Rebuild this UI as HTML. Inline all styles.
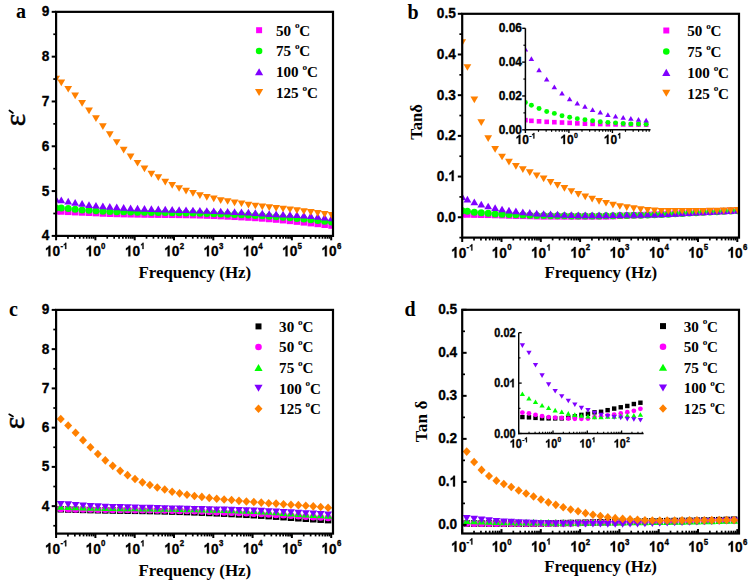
<!DOCTYPE html><html><head><meta charset="utf-8"><style>html,body{margin:0;padding:0;background:#fff;}svg{display:block;}</style></head><body>
<svg width="749" height="581" viewBox="0 0 749 581">
<rect width="749" height="581" fill="#fff"/>
<clipPath id="ca"><rect x="56.1" y="11.85" width="276.9" height="224.05"/></clipPath>
<g clip-path="url(#ca)">
<rect x="52.85" y="208.01" width="6.5" height="6.5" fill="#ff00ff"/>
<rect x="58.05" y="208.23" width="6.5" height="6.5" fill="#ff00ff"/>
<rect x="64.98" y="208.57" width="6.5" height="6.5" fill="#ff00ff"/>
<rect x="71.91" y="208.91" width="6.5" height="6.5" fill="#ff00ff"/>
<rect x="78.84" y="209.2" width="6.5" height="6.5" fill="#ff00ff"/>
<rect x="85.77" y="209.49" width="6.5" height="6.5" fill="#ff00ff"/>
<rect x="92.7" y="209.82" width="6.5" height="6.5" fill="#ff00ff"/>
<rect x="99.63" y="210.25" width="6.5" height="6.5" fill="#ff00ff"/>
<rect x="106.56" y="210.5" width="6.5" height="6.5" fill="#ff00ff"/>
<rect x="113.49" y="210.71" width="6.5" height="6.5" fill="#ff00ff"/>
<rect x="120.42" y="210.88" width="6.5" height="6.5" fill="#ff00ff"/>
<rect x="127.35" y="211.02" width="6.5" height="6.5" fill="#ff00ff"/>
<rect x="134.28" y="211.14" width="6.5" height="6.5" fill="#ff00ff"/>
<rect x="141.21" y="211.25" width="6.5" height="6.5" fill="#ff00ff"/>
<rect x="148.14" y="211.34" width="6.5" height="6.5" fill="#ff00ff"/>
<rect x="155.07" y="211.41" width="6.5" height="6.5" fill="#ff00ff"/>
<rect x="162" y="211.48" width="6.5" height="6.5" fill="#ff00ff"/>
<rect x="168.93" y="211.55" width="6.5" height="6.5" fill="#ff00ff"/>
<rect x="175.86" y="211.64" width="6.5" height="6.5" fill="#ff00ff"/>
<rect x="182.79" y="211.74" width="6.5" height="6.5" fill="#ff00ff"/>
<rect x="189.72" y="211.88" width="6.5" height="6.5" fill="#ff00ff"/>
<rect x="196.65" y="212.06" width="6.5" height="6.5" fill="#ff00ff"/>
<rect x="203.58" y="212.29" width="6.5" height="6.5" fill="#ff00ff"/>
<rect x="210.51" y="212.55" width="6.5" height="6.5" fill="#ff00ff"/>
<rect x="217.44" y="212.86" width="6.5" height="6.5" fill="#ff00ff"/>
<rect x="224.37" y="213.18" width="6.5" height="6.5" fill="#ff00ff"/>
<rect x="231.3" y="213.54" width="6.5" height="6.5" fill="#ff00ff"/>
<rect x="238.23" y="213.91" width="6.5" height="6.5" fill="#ff00ff"/>
<rect x="245.16" y="214.28" width="6.5" height="6.5" fill="#ff00ff"/>
<rect x="252.09" y="214.7" width="6.5" height="6.5" fill="#ff00ff"/>
<rect x="259.02" y="215.19" width="6.5" height="6.5" fill="#ff00ff"/>
<rect x="265.95" y="215.73" width="6.5" height="6.5" fill="#ff00ff"/>
<rect x="272.88" y="216.3" width="6.5" height="6.5" fill="#ff00ff"/>
<rect x="279.81" y="216.93" width="6.5" height="6.5" fill="#ff00ff"/>
<rect x="286.74" y="217.63" width="6.5" height="6.5" fill="#ff00ff"/>
<rect x="293.67" y="218.35" width="6.5" height="6.5" fill="#ff00ff"/>
<rect x="300.6" y="219.1" width="6.5" height="6.5" fill="#ff00ff"/>
<rect x="307.53" y="219.88" width="6.5" height="6.5" fill="#ff00ff"/>
<rect x="314.46" y="220.67" width="6.5" height="6.5" fill="#ff00ff"/>
<rect x="321.39" y="221.48" width="6.5" height="6.5" fill="#ff00ff"/>
<rect x="328.32" y="222.29" width="6.5" height="6.5" fill="#ff00ff"/>
<circle cx="56.1" cy="207.9" r="3.5" fill="#00ff00"/>
<circle cx="61.3" cy="208.12" r="3.5" fill="#00ff00"/>
<circle cx="68.23" cy="208.57" r="3.5" fill="#00ff00"/>
<circle cx="75.16" cy="209.25" r="3.5" fill="#00ff00"/>
<circle cx="82.09" cy="209.92" r="3.5" fill="#00ff00"/>
<circle cx="89.02" cy="210.37" r="3.5" fill="#00ff00"/>
<circle cx="95.95" cy="210.82" r="3.5" fill="#00ff00"/>
<circle cx="102.88" cy="211.15" r="3.5" fill="#00ff00"/>
<circle cx="109.81" cy="211.41" r="3.5" fill="#00ff00"/>
<circle cx="116.74" cy="211.63" r="3.5" fill="#00ff00"/>
<circle cx="123.67" cy="211.82" r="3.5" fill="#00ff00"/>
<circle cx="130.6" cy="212" r="3.5" fill="#00ff00"/>
<circle cx="137.53" cy="212.15" r="3.5" fill="#00ff00"/>
<circle cx="144.46" cy="212.29" r="3.5" fill="#00ff00"/>
<circle cx="151.39" cy="212.41" r="3.5" fill="#00ff00"/>
<circle cx="158.32" cy="212.52" r="3.5" fill="#00ff00"/>
<circle cx="165.25" cy="212.62" r="3.5" fill="#00ff00"/>
<circle cx="172.18" cy="212.72" r="3.5" fill="#00ff00"/>
<circle cx="179.11" cy="212.83" r="3.5" fill="#00ff00"/>
<circle cx="186.04" cy="212.96" r="3.5" fill="#00ff00"/>
<circle cx="192.97" cy="213.12" r="3.5" fill="#00ff00"/>
<circle cx="199.9" cy="213.29" r="3.5" fill="#00ff00"/>
<circle cx="206.83" cy="213.49" r="3.5" fill="#00ff00"/>
<circle cx="213.76" cy="213.71" r="3.5" fill="#00ff00"/>
<circle cx="220.69" cy="213.95" r="3.5" fill="#00ff00"/>
<circle cx="227.62" cy="214.21" r="3.5" fill="#00ff00"/>
<circle cx="234.55" cy="214.48" r="3.5" fill="#00ff00"/>
<circle cx="241.48" cy="214.77" r="3.5" fill="#00ff00"/>
<circle cx="248.41" cy="215.07" r="3.5" fill="#00ff00"/>
<circle cx="255.34" cy="215.39" r="3.5" fill="#00ff00"/>
<circle cx="262.27" cy="215.76" r="3.5" fill="#00ff00"/>
<circle cx="269.2" cy="216.18" r="3.5" fill="#00ff00"/>
<circle cx="276.13" cy="216.63" r="3.5" fill="#00ff00"/>
<circle cx="283.06" cy="217.18" r="3.5" fill="#00ff00"/>
<circle cx="289.99" cy="217.81" r="3.5" fill="#00ff00"/>
<circle cx="296.92" cy="218.46" r="3.5" fill="#00ff00"/>
<circle cx="303.85" cy="219.1" r="3.5" fill="#00ff00"/>
<circle cx="310.78" cy="219.74" r="3.5" fill="#00ff00"/>
<circle cx="317.71" cy="220.42" r="3.5" fill="#00ff00"/>
<circle cx="324.64" cy="221.14" r="3.5" fill="#00ff00"/>
<circle cx="331.57" cy="221.96" r="3.5" fill="#00ff00"/>
<path d="M56.1 195.81L60 202.51L52.2 202.51Z" fill="#8000ff"/>
<path d="M61.3 196.43L65.2 203.13L57.4 203.13Z" fill="#8000ff"/>
<path d="M68.23 197.74L72.13 204.44L64.33 204.44Z" fill="#8000ff"/>
<path d="M75.16 198.97L79.06 205.67L71.26 205.67Z" fill="#8000ff"/>
<path d="M82.09 200.09L85.99 206.79L78.19 206.79Z" fill="#8000ff"/>
<path d="M89.02 201.2L92.92 207.9L85.12 207.9Z" fill="#8000ff"/>
<path d="M95.95 201.89L99.85 208.59L92.05 208.59Z" fill="#8000ff"/>
<path d="M102.88 202.54L106.78 209.24L98.98 209.24Z" fill="#8000ff"/>
<path d="M109.81 203.08L113.71 209.78L105.91 209.78Z" fill="#8000ff"/>
<path d="M116.74 203.58L120.64 210.28L112.84 210.28Z" fill="#8000ff"/>
<path d="M123.67 204.03L127.57 210.73L119.77 210.73Z" fill="#8000ff"/>
<path d="M130.6 204.43L134.5 211.13L126.7 211.13Z" fill="#8000ff"/>
<path d="M137.53 204.77L141.43 211.47L133.63 211.47Z" fill="#8000ff"/>
<path d="M144.46 205.07L148.36 211.77L140.56 211.77Z" fill="#8000ff"/>
<path d="M151.39 205.33L155.29 212.03L147.49 212.03Z" fill="#8000ff"/>
<path d="M158.32 205.56L162.22 212.26L154.42 212.26Z" fill="#8000ff"/>
<path d="M165.25 205.77L169.15 212.47L161.35 212.47Z" fill="#8000ff"/>
<path d="M172.18 205.98L176.08 212.68L168.28 212.68Z" fill="#8000ff"/>
<path d="M179.11 206.2L183.01 212.9L175.21 212.9Z" fill="#8000ff"/>
<path d="M186.04 206.42L189.94 213.12L182.14 213.12Z" fill="#8000ff"/>
<path d="M192.97 206.67L196.87 213.37L189.07 213.37Z" fill="#8000ff"/>
<path d="M199.9 206.91L203.8 213.61L196 213.61Z" fill="#8000ff"/>
<path d="M206.83 207.15L210.73 213.85L202.93 213.85Z" fill="#8000ff"/>
<path d="M213.76 207.39L217.66 214.09L209.86 214.09Z" fill="#8000ff"/>
<path d="M220.69 207.64L224.59 214.34L216.79 214.34Z" fill="#8000ff"/>
<path d="M227.62 207.9L231.52 214.6L223.72 214.6Z" fill="#8000ff"/>
<path d="M234.55 208.18L238.45 214.88L230.65 214.88Z" fill="#8000ff"/>
<path d="M241.48 208.48L245.38 215.18L237.58 215.18Z" fill="#8000ff"/>
<path d="M248.41 208.81L252.31 215.51L244.51 215.51Z" fill="#8000ff"/>
<path d="M255.34 209.23L259.24 215.93L251.44 215.93Z" fill="#8000ff"/>
<path d="M262.27 209.73L266.17 216.43L258.37 216.43Z" fill="#8000ff"/>
<path d="M269.2 210.21L273.1 216.91L265.3 216.91Z" fill="#8000ff"/>
<path d="M276.13 210.59L280.03 217.29L272.23 217.29Z" fill="#8000ff"/>
<path d="M283.06 210.83L286.96 217.53L279.16 217.53Z" fill="#8000ff"/>
<path d="M289.99 211.02L293.89 217.72L286.09 217.72Z" fill="#8000ff"/>
<path d="M296.92 211.29L300.82 217.99L293.02 217.99Z" fill="#8000ff"/>
<path d="M303.85 211.73L307.75 218.43L299.95 218.43Z" fill="#8000ff"/>
<path d="M310.78 212.33L314.68 219.03L306.88 219.03Z" fill="#8000ff"/>
<path d="M317.71 213.03L321.61 219.73L313.81 219.73Z" fill="#8000ff"/>
<path d="M324.64 213.75L328.54 220.45L320.74 220.45Z" fill="#8000ff"/>
<path d="M331.57 214.57L335.47 221.27L327.67 221.27Z" fill="#8000ff"/>
<path d="M52.2 75.78L60 75.78L56.1 82.48Z" fill="#ff8000"/>
<path d="M57.4 79.59L65.2 79.59L61.3 86.29Z" fill="#ff8000"/>
<path d="M64.33 85.88L72.13 85.88L68.23 92.58Z" fill="#ff8000"/>
<path d="M71.26 92.56L79.06 92.56L75.16 99.26Z" fill="#ff8000"/>
<path d="M78.19 99.99L85.99 99.99L82.09 106.69Z" fill="#ff8000"/>
<path d="M85.12 107.54L92.92 107.54L89.02 114.24Z" fill="#ff8000"/>
<path d="M92.05 115.21L99.85 115.21L95.95 121.91Z" fill="#ff8000"/>
<path d="M98.98 123.2L106.78 123.2L102.88 129.9Z" fill="#ff8000"/>
<path d="M105.91 131.19L113.71 131.19L109.81 137.89Z" fill="#ff8000"/>
<path d="M112.84 139.17L120.64 139.17L116.74 145.87Z" fill="#ff8000"/>
<path d="M119.77 146.79L127.57 146.79L123.67 153.49Z" fill="#ff8000"/>
<path d="M126.7 153.43L134.5 153.43L130.6 160.13Z" fill="#ff8000"/>
<path d="M133.63 159.89L141.43 159.89L137.53 166.59Z" fill="#ff8000"/>
<path d="M140.56 165.62L148.36 165.62L144.46 172.32Z" fill="#ff8000"/>
<path d="M147.49 170.72L155.29 170.72L151.39 177.42Z" fill="#ff8000"/>
<path d="M154.42 174.31L162.22 174.31L158.32 181.01Z" fill="#ff8000"/>
<path d="M161.35 178.8L169.15 178.8L165.25 185.5Z" fill="#ff8000"/>
<path d="M168.28 182L176.08 182L172.18 188.7Z" fill="#ff8000"/>
<path d="M175.21 185.14L183.01 185.14L179.11 191.84Z" fill="#ff8000"/>
<path d="M182.14 187.82L189.94 187.82L186.04 194.52Z" fill="#ff8000"/>
<path d="M189.07 190.07L196.87 190.07L192.97 196.77Z" fill="#ff8000"/>
<path d="M196 192.31L203.8 192.31L199.9 199.01Z" fill="#ff8000"/>
<path d="M202.93 194.09L210.73 194.09L206.83 200.79Z" fill="#ff8000"/>
<path d="M209.86 195.44L217.66 195.44L213.76 202.14Z" fill="#ff8000"/>
<path d="M216.79 197.23L224.59 197.23L220.69 203.93Z" fill="#ff8000"/>
<path d="M223.72 198.13L231.52 198.13L227.62 204.83Z" fill="#ff8000"/>
<path d="M230.65 199.47L238.45 199.47L234.55 206.17Z" fill="#ff8000"/>
<path d="M237.58 200.38L245.38 200.38L241.48 207.08Z" fill="#ff8000"/>
<path d="M244.51 201.69L252.31 201.69L248.41 208.39Z" fill="#ff8000"/>
<path d="M251.44 202.65L259.24 202.65L255.34 209.35Z" fill="#ff8000"/>
<path d="M258.37 203.48L266.17 203.48L262.27 210.18Z" fill="#ff8000"/>
<path d="M265.3 204.23L273.1 204.23L269.2 210.93Z" fill="#ff8000"/>
<path d="M272.23 204.93L280.03 204.93L276.13 211.63Z" fill="#ff8000"/>
<path d="M279.16 205.65L286.96 205.65L283.06 212.35Z" fill="#ff8000"/>
<path d="M286.09 206.42L293.89 206.42L289.99 213.12Z" fill="#ff8000"/>
<path d="M293.02 207.28L300.82 207.28L296.92 213.98Z" fill="#ff8000"/>
<path d="M299.95 208.17L307.75 208.17L303.85 214.87Z" fill="#ff8000"/>
<path d="M306.88 209.1L314.68 209.1L310.78 215.8Z" fill="#ff8000"/>
<path d="M313.81 210.05L321.61 210.05L317.71 216.75Z" fill="#ff8000"/>
<path d="M320.74 211.02L328.54 211.02L324.64 217.72Z" fill="#ff8000"/>
<path d="M327.67 212.02L335.47 212.02L331.57 218.72Z" fill="#ff8000"/>
</g>
<rect x="56.1" y="11.85" width="276.9" height="224.05" fill="none" stroke="#000" stroke-width="2.2"/>
<line x1="56.1" y1="235.9" x2="51.7" y2="235.9" stroke="#000" stroke-width="2"/>
<line x1="56.1" y1="191.09" x2="51.7" y2="191.09" stroke="#000" stroke-width="2"/>
<line x1="56.1" y1="146.28" x2="51.7" y2="146.28" stroke="#000" stroke-width="2"/>
<line x1="56.1" y1="101.47" x2="51.7" y2="101.47" stroke="#000" stroke-width="2"/>
<line x1="56.1" y1="56.66" x2="51.7" y2="56.66" stroke="#000" stroke-width="2"/>
<line x1="56.1" y1="11.85" x2="51.7" y2="11.85" stroke="#000" stroke-width="2"/>
<line x1="56.1" y1="213.5" x2="53.3" y2="213.5" stroke="#000" stroke-width="1.7"/>
<line x1="56.1" y1="168.69" x2="53.3" y2="168.69" stroke="#000" stroke-width="1.7"/>
<line x1="56.1" y1="123.88" x2="53.3" y2="123.88" stroke="#000" stroke-width="1.7"/>
<line x1="56.1" y1="79.06" x2="53.3" y2="79.06" stroke="#000" stroke-width="1.7"/>
<line x1="56.1" y1="34.25" x2="53.3" y2="34.25" stroke="#000" stroke-width="1.7"/>
<line x1="56.1" y1="235.9" x2="56.1" y2="240.3" stroke="#000" stroke-width="2"/>
<line x1="95.4" y1="235.9" x2="95.4" y2="240.3" stroke="#000" stroke-width="2"/>
<line x1="134.7" y1="235.9" x2="134.7" y2="240.3" stroke="#000" stroke-width="2"/>
<line x1="174" y1="235.9" x2="174" y2="240.3" stroke="#000" stroke-width="2"/>
<line x1="213.3" y1="235.9" x2="213.3" y2="240.3" stroke="#000" stroke-width="2"/>
<line x1="252.6" y1="235.9" x2="252.6" y2="240.3" stroke="#000" stroke-width="2"/>
<line x1="291.9" y1="235.9" x2="291.9" y2="240.3" stroke="#000" stroke-width="2"/>
<line x1="331.2" y1="235.9" x2="331.2" y2="240.3" stroke="#000" stroke-width="2"/>
<line x1="67.93" y1="235.9" x2="67.93" y2="238.7" stroke="#000" stroke-width="1.7"/>
<line x1="74.85" y1="235.9" x2="74.85" y2="238.7" stroke="#000" stroke-width="1.7"/>
<line x1="79.76" y1="235.9" x2="79.76" y2="238.7" stroke="#000" stroke-width="1.7"/>
<line x1="83.57" y1="235.9" x2="83.57" y2="238.7" stroke="#000" stroke-width="1.7"/>
<line x1="86.68" y1="235.9" x2="86.68" y2="238.7" stroke="#000" stroke-width="1.7"/>
<line x1="89.31" y1="235.9" x2="89.31" y2="238.7" stroke="#000" stroke-width="1.7"/>
<line x1="91.59" y1="235.9" x2="91.59" y2="238.7" stroke="#000" stroke-width="1.7"/>
<line x1="93.6" y1="235.9" x2="93.6" y2="238.7" stroke="#000" stroke-width="1.7"/>
<line x1="107.23" y1="235.9" x2="107.23" y2="238.7" stroke="#000" stroke-width="1.7"/>
<line x1="114.15" y1="235.9" x2="114.15" y2="238.7" stroke="#000" stroke-width="1.7"/>
<line x1="119.06" y1="235.9" x2="119.06" y2="238.7" stroke="#000" stroke-width="1.7"/>
<line x1="122.87" y1="235.9" x2="122.87" y2="238.7" stroke="#000" stroke-width="1.7"/>
<line x1="125.98" y1="235.9" x2="125.98" y2="238.7" stroke="#000" stroke-width="1.7"/>
<line x1="128.61" y1="235.9" x2="128.61" y2="238.7" stroke="#000" stroke-width="1.7"/>
<line x1="130.89" y1="235.9" x2="130.89" y2="238.7" stroke="#000" stroke-width="1.7"/>
<line x1="132.9" y1="235.9" x2="132.9" y2="238.7" stroke="#000" stroke-width="1.7"/>
<line x1="146.53" y1="235.9" x2="146.53" y2="238.7" stroke="#000" stroke-width="1.7"/>
<line x1="153.45" y1="235.9" x2="153.45" y2="238.7" stroke="#000" stroke-width="1.7"/>
<line x1="158.36" y1="235.9" x2="158.36" y2="238.7" stroke="#000" stroke-width="1.7"/>
<line x1="162.17" y1="235.9" x2="162.17" y2="238.7" stroke="#000" stroke-width="1.7"/>
<line x1="165.28" y1="235.9" x2="165.28" y2="238.7" stroke="#000" stroke-width="1.7"/>
<line x1="167.91" y1="235.9" x2="167.91" y2="238.7" stroke="#000" stroke-width="1.7"/>
<line x1="170.19" y1="235.9" x2="170.19" y2="238.7" stroke="#000" stroke-width="1.7"/>
<line x1="172.2" y1="235.9" x2="172.2" y2="238.7" stroke="#000" stroke-width="1.7"/>
<line x1="185.83" y1="235.9" x2="185.83" y2="238.7" stroke="#000" stroke-width="1.7"/>
<line x1="192.75" y1="235.9" x2="192.75" y2="238.7" stroke="#000" stroke-width="1.7"/>
<line x1="197.66" y1="235.9" x2="197.66" y2="238.7" stroke="#000" stroke-width="1.7"/>
<line x1="201.47" y1="235.9" x2="201.47" y2="238.7" stroke="#000" stroke-width="1.7"/>
<line x1="204.58" y1="235.9" x2="204.58" y2="238.7" stroke="#000" stroke-width="1.7"/>
<line x1="207.21" y1="235.9" x2="207.21" y2="238.7" stroke="#000" stroke-width="1.7"/>
<line x1="209.49" y1="235.9" x2="209.49" y2="238.7" stroke="#000" stroke-width="1.7"/>
<line x1="211.5" y1="235.9" x2="211.5" y2="238.7" stroke="#000" stroke-width="1.7"/>
<line x1="225.13" y1="235.9" x2="225.13" y2="238.7" stroke="#000" stroke-width="1.7"/>
<line x1="232.05" y1="235.9" x2="232.05" y2="238.7" stroke="#000" stroke-width="1.7"/>
<line x1="236.96" y1="235.9" x2="236.96" y2="238.7" stroke="#000" stroke-width="1.7"/>
<line x1="240.77" y1="235.9" x2="240.77" y2="238.7" stroke="#000" stroke-width="1.7"/>
<line x1="243.88" y1="235.9" x2="243.88" y2="238.7" stroke="#000" stroke-width="1.7"/>
<line x1="246.51" y1="235.9" x2="246.51" y2="238.7" stroke="#000" stroke-width="1.7"/>
<line x1="248.79" y1="235.9" x2="248.79" y2="238.7" stroke="#000" stroke-width="1.7"/>
<line x1="250.8" y1="235.9" x2="250.8" y2="238.7" stroke="#000" stroke-width="1.7"/>
<line x1="264.43" y1="235.9" x2="264.43" y2="238.7" stroke="#000" stroke-width="1.7"/>
<line x1="271.35" y1="235.9" x2="271.35" y2="238.7" stroke="#000" stroke-width="1.7"/>
<line x1="276.26" y1="235.9" x2="276.26" y2="238.7" stroke="#000" stroke-width="1.7"/>
<line x1="280.07" y1="235.9" x2="280.07" y2="238.7" stroke="#000" stroke-width="1.7"/>
<line x1="283.18" y1="235.9" x2="283.18" y2="238.7" stroke="#000" stroke-width="1.7"/>
<line x1="285.81" y1="235.9" x2="285.81" y2="238.7" stroke="#000" stroke-width="1.7"/>
<line x1="288.09" y1="235.9" x2="288.09" y2="238.7" stroke="#000" stroke-width="1.7"/>
<line x1="290.1" y1="235.9" x2="290.1" y2="238.7" stroke="#000" stroke-width="1.7"/>
<line x1="303.73" y1="235.9" x2="303.73" y2="238.7" stroke="#000" stroke-width="1.7"/>
<line x1="310.65" y1="235.9" x2="310.65" y2="238.7" stroke="#000" stroke-width="1.7"/>
<line x1="315.56" y1="235.9" x2="315.56" y2="238.7" stroke="#000" stroke-width="1.7"/>
<line x1="319.37" y1="235.9" x2="319.37" y2="238.7" stroke="#000" stroke-width="1.7"/>
<line x1="322.48" y1="235.9" x2="322.48" y2="238.7" stroke="#000" stroke-width="1.7"/>
<line x1="325.11" y1="235.9" x2="325.11" y2="238.7" stroke="#000" stroke-width="1.7"/>
<line x1="327.39" y1="235.9" x2="327.39" y2="238.7" stroke="#000" stroke-width="1.7"/>
<line x1="329.4" y1="235.9" x2="329.4" y2="238.7" stroke="#000" stroke-width="1.7"/>
<text transform="translate(41.68 240.4) scale(1 1.13)" x="0" y="0" font-family="Liberation Sans" font-size="13.7" font-weight="bold" stroke="#000" stroke-width="0.3">4</text>
<text transform="translate(41.68 195.59) scale(1 1.13)" x="0" y="0" font-family="Liberation Sans" font-size="13.7" font-weight="bold" stroke="#000" stroke-width="0.3">5</text>
<text transform="translate(41.68 150.78) scale(1 1.13)" x="0" y="0" font-family="Liberation Sans" font-size="13.7" font-weight="bold" stroke="#000" stroke-width="0.3">6</text>
<text transform="translate(41.68 105.97) scale(1 1.13)" x="0" y="0" font-family="Liberation Sans" font-size="13.7" font-weight="bold" stroke="#000" stroke-width="0.3">7</text>
<text transform="translate(41.68 61.16) scale(1 1.13)" x="0" y="0" font-family="Liberation Sans" font-size="13.7" font-weight="bold" stroke="#000" stroke-width="0.3">8</text>
<text transform="translate(41.68 16.35) scale(1 1.13)" x="0" y="0" font-family="Liberation Sans" font-size="13.7" font-weight="bold" stroke="#000" stroke-width="0.3">9</text>
<path transform="translate(44.97 256.3) scale(0.00669 -0.00756)" d="M806 0H525V1018Q371 879 162 813V1058Q272 1093 401 1190Q530 1287 578 1409H806Z" fill="#000" stroke="#000" stroke-width="44.8"/><text transform="translate(52.59 256.3) scale(1 1.13)" x="0" y="0" font-family="Liberation Sans" font-size="13.7" font-weight="bold" stroke="#000" stroke-width="0.3">0</text><text transform="translate(60.51 249) scale(1 1.13)" x="0" y="0" font-family="Liberation Sans" font-size="7.9" font-weight="bold" stroke="#000" stroke-width="0.3">-</text><path transform="translate(63.14 249) scale(0.00386 -0.00436)" d="M806 0H525V1018Q371 879 162 813V1058Q272 1093 401 1190Q530 1287 578 1409H806Z" fill="#000" stroke="#000" stroke-width="77.8"/>
<path transform="translate(85.59 256.3) scale(0.00669 -0.00756)" d="M806 0H525V1018Q371 879 162 813V1058Q272 1093 401 1190Q530 1287 578 1409H806Z" fill="#000" stroke="#000" stroke-width="44.8"/><text transform="translate(93.2 256.3) scale(1 1.13)" x="0" y="0" font-family="Liberation Sans" font-size="13.7" font-weight="bold" stroke="#000" stroke-width="0.3">0</text><text transform="translate(101.12 249) scale(1 1.13)" x="0" y="0" font-family="Liberation Sans" font-size="7.9" font-weight="bold" stroke="#000" stroke-width="0.3">0</text>
<path transform="translate(124.89 256.3) scale(0.00669 -0.00756)" d="M806 0H525V1018Q371 879 162 813V1058Q272 1093 401 1190Q530 1287 578 1409H806Z" fill="#000" stroke="#000" stroke-width="44.8"/><text transform="translate(132.5 256.3) scale(1 1.13)" x="0" y="0" font-family="Liberation Sans" font-size="13.7" font-weight="bold" stroke="#000" stroke-width="0.3">0</text><path transform="translate(140.42 249) scale(0.00386 -0.00436)" d="M806 0H525V1018Q371 879 162 813V1058Q272 1093 401 1190Q530 1287 578 1409H806Z" fill="#000" stroke="#000" stroke-width="77.8"/>
<path transform="translate(164.19 256.3) scale(0.00669 -0.00756)" d="M806 0H525V1018Q371 879 162 813V1058Q272 1093 401 1190Q530 1287 578 1409H806Z" fill="#000" stroke="#000" stroke-width="44.8"/><text transform="translate(171.8 256.3) scale(1 1.13)" x="0" y="0" font-family="Liberation Sans" font-size="13.7" font-weight="bold" stroke="#000" stroke-width="0.3">0</text><text transform="translate(179.72 249) scale(1 1.13)" x="0" y="0" font-family="Liberation Sans" font-size="7.9" font-weight="bold" stroke="#000" stroke-width="0.3">2</text>
<path transform="translate(203.49 256.3) scale(0.00669 -0.00756)" d="M806 0H525V1018Q371 879 162 813V1058Q272 1093 401 1190Q530 1287 578 1409H806Z" fill="#000" stroke="#000" stroke-width="44.8"/><text transform="translate(211.1 256.3) scale(1 1.13)" x="0" y="0" font-family="Liberation Sans" font-size="13.7" font-weight="bold" stroke="#000" stroke-width="0.3">0</text><text transform="translate(219.02 249) scale(1 1.13)" x="0" y="0" font-family="Liberation Sans" font-size="7.9" font-weight="bold" stroke="#000" stroke-width="0.3">3</text>
<path transform="translate(242.79 256.3) scale(0.00669 -0.00756)" d="M806 0H525V1018Q371 879 162 813V1058Q272 1093 401 1190Q530 1287 578 1409H806Z" fill="#000" stroke="#000" stroke-width="44.8"/><text transform="translate(250.4 256.3) scale(1 1.13)" x="0" y="0" font-family="Liberation Sans" font-size="13.7" font-weight="bold" stroke="#000" stroke-width="0.3">0</text><text transform="translate(258.32 249) scale(1 1.13)" x="0" y="0" font-family="Liberation Sans" font-size="7.9" font-weight="bold" stroke="#000" stroke-width="0.3">4</text>
<path transform="translate(282.09 256.3) scale(0.00669 -0.00756)" d="M806 0H525V1018Q371 879 162 813V1058Q272 1093 401 1190Q530 1287 578 1409H806Z" fill="#000" stroke="#000" stroke-width="44.8"/><text transform="translate(289.7 256.3) scale(1 1.13)" x="0" y="0" font-family="Liberation Sans" font-size="13.7" font-weight="bold" stroke="#000" stroke-width="0.3">0</text><text transform="translate(297.62 249) scale(1 1.13)" x="0" y="0" font-family="Liberation Sans" font-size="7.9" font-weight="bold" stroke="#000" stroke-width="0.3">5</text>
<path transform="translate(321.39 256.3) scale(0.00669 -0.00756)" d="M806 0H525V1018Q371 879 162 813V1058Q272 1093 401 1190Q530 1287 578 1409H806Z" fill="#000" stroke="#000" stroke-width="44.8"/><text transform="translate(329 256.3) scale(1 1.13)" x="0" y="0" font-family="Liberation Sans" font-size="13.7" font-weight="bold" stroke="#000" stroke-width="0.3">0</text><text transform="translate(336.92 249) scale(1 1.13)" x="0" y="0" font-family="Liberation Sans" font-size="7.9" font-weight="bold" stroke="#000" stroke-width="0.3">6</text>
<clipPath id="cb"><rect x="462.2" y="13.8" width="276.8" height="223.8"/></clipPath>
<g clip-path="url(#cb)">
<rect x="458.95" y="211.07" width="6.5" height="6.5" fill="#ff00ff"/>
<rect x="464.15" y="211.24" width="6.5" height="6.5" fill="#ff00ff"/>
<rect x="471.08" y="211.36" width="6.5" height="6.5" fill="#ff00ff"/>
<rect x="478.01" y="211.48" width="6.5" height="6.5" fill="#ff00ff"/>
<rect x="484.94" y="211.56" width="6.5" height="6.5" fill="#ff00ff"/>
<rect x="491.87" y="211.77" width="6.5" height="6.5" fill="#ff00ff"/>
<rect x="498.8" y="211.98" width="6.5" height="6.5" fill="#ff00ff"/>
<rect x="505.73" y="212.23" width="6.5" height="6.5" fill="#ff00ff"/>
<rect x="512.66" y="212.44" width="6.5" height="6.5" fill="#ff00ff"/>
<rect x="519.59" y="212.61" width="6.5" height="6.5" fill="#ff00ff"/>
<rect x="526.52" y="212.77" width="6.5" height="6.5" fill="#ff00ff"/>
<rect x="533.45" y="212.94" width="6.5" height="6.5" fill="#ff00ff"/>
<rect x="540.38" y="213.11" width="6.5" height="6.5" fill="#ff00ff"/>
<rect x="547.31" y="213.11" width="6.5" height="6.5" fill="#ff00ff"/>
<rect x="554.24" y="213.15" width="6.5" height="6.5" fill="#ff00ff"/>
<rect x="561.17" y="213.15" width="6.5" height="6.5" fill="#ff00ff"/>
<rect x="568.1" y="213.19" width="6.5" height="6.5" fill="#ff00ff"/>
<rect x="575.03" y="213.19" width="6.5" height="6.5" fill="#ff00ff"/>
<rect x="581.96" y="213.18" width="6.5" height="6.5" fill="#ff00ff"/>
<rect x="588.89" y="213.16" width="6.5" height="6.5" fill="#ff00ff"/>
<rect x="595.82" y="213.13" width="6.5" height="6.5" fill="#ff00ff"/>
<rect x="602.75" y="213.08" width="6.5" height="6.5" fill="#ff00ff"/>
<rect x="609.68" y="212.85" width="6.5" height="6.5" fill="#ff00ff"/>
<rect x="616.61" y="212.56" width="6.5" height="6.5" fill="#ff00ff"/>
<rect x="623.54" y="212.33" width="6.5" height="6.5" fill="#ff00ff"/>
<rect x="630.47" y="212.09" width="6.5" height="6.5" fill="#ff00ff"/>
<rect x="637.4" y="211.85" width="6.5" height="6.5" fill="#ff00ff"/>
<rect x="644.33" y="211.6" width="6.5" height="6.5" fill="#ff00ff"/>
<rect x="651.26" y="211.33" width="6.5" height="6.5" fill="#ff00ff"/>
<rect x="658.19" y="211.04" width="6.5" height="6.5" fill="#ff00ff"/>
<rect x="665.12" y="210.7" width="6.5" height="6.5" fill="#ff00ff"/>
<rect x="672.05" y="210.34" width="6.5" height="6.5" fill="#ff00ff"/>
<rect x="678.98" y="209.96" width="6.5" height="6.5" fill="#ff00ff"/>
<rect x="685.91" y="209.58" width="6.5" height="6.5" fill="#ff00ff"/>
<rect x="692.84" y="209.22" width="6.5" height="6.5" fill="#ff00ff"/>
<rect x="699.77" y="208.88" width="6.5" height="6.5" fill="#ff00ff"/>
<rect x="706.7" y="208.54" width="6.5" height="6.5" fill="#ff00ff"/>
<rect x="713.63" y="208.22" width="6.5" height="6.5" fill="#ff00ff"/>
<rect x="720.56" y="207.9" width="6.5" height="6.5" fill="#ff00ff"/>
<rect x="727.49" y="207.58" width="6.5" height="6.5" fill="#ff00ff"/>
<rect x="734.42" y="207.27" width="6.5" height="6.5" fill="#ff00ff"/>
<circle cx="462.2" cy="210.7" r="3.5" fill="#00ff00"/>
<circle cx="467.4" cy="211.35" r="3.5" fill="#00ff00"/>
<circle cx="474.33" cy="212.13" r="3.5" fill="#00ff00"/>
<circle cx="481.26" cy="212.86" r="3.5" fill="#00ff00"/>
<circle cx="488.19" cy="213.31" r="3.5" fill="#00ff00"/>
<circle cx="495.12" cy="213.88" r="3.5" fill="#00ff00"/>
<circle cx="502.05" cy="214.24" r="3.5" fill="#00ff00"/>
<circle cx="508.98" cy="214.57" r="3.5" fill="#00ff00"/>
<circle cx="515.91" cy="214.85" r="3.5" fill="#00ff00"/>
<circle cx="522.84" cy="215.1" r="3.5" fill="#00ff00"/>
<circle cx="529.77" cy="215.3" r="3.5" fill="#00ff00"/>
<circle cx="536.7" cy="215.46" r="3.5" fill="#00ff00"/>
<circle cx="543.63" cy="215.59" r="3.5" fill="#00ff00"/>
<circle cx="550.56" cy="215.75" r="3.5" fill="#00ff00"/>
<circle cx="557.49" cy="215.83" r="3.5" fill="#00ff00"/>
<circle cx="564.42" cy="215.87" r="3.5" fill="#00ff00"/>
<circle cx="571.35" cy="215.91" r="3.5" fill="#00ff00"/>
<circle cx="578.28" cy="215.91" r="3.5" fill="#00ff00"/>
<circle cx="585.21" cy="215.9" r="3.5" fill="#00ff00"/>
<circle cx="592.14" cy="215.9" r="3.5" fill="#00ff00"/>
<circle cx="599.07" cy="215.88" r="3.5" fill="#00ff00"/>
<circle cx="606" cy="215.86" r="3.5" fill="#00ff00"/>
<circle cx="612.93" cy="215.75" r="3.5" fill="#00ff00"/>
<circle cx="619.86" cy="215.62" r="3.5" fill="#00ff00"/>
<circle cx="626.79" cy="215.48" r="3.5" fill="#00ff00"/>
<circle cx="633.72" cy="215.33" r="3.5" fill="#00ff00"/>
<circle cx="640.65" cy="215.15" r="3.5" fill="#00ff00"/>
<circle cx="647.58" cy="214.96" r="3.5" fill="#00ff00"/>
<circle cx="654.51" cy="214.75" r="3.5" fill="#00ff00"/>
<circle cx="661.44" cy="214.51" r="3.5" fill="#00ff00"/>
<circle cx="668.37" cy="214.2" r="3.5" fill="#00ff00"/>
<circle cx="675.3" cy="213.83" r="3.5" fill="#00ff00"/>
<circle cx="682.23" cy="213.44" r="3.5" fill="#00ff00"/>
<circle cx="689.16" cy="213.04" r="3.5" fill="#00ff00"/>
<circle cx="696.09" cy="212.67" r="3.5" fill="#00ff00"/>
<circle cx="703.02" cy="212.33" r="3.5" fill="#00ff00"/>
<circle cx="709.95" cy="212" r="3.5" fill="#00ff00"/>
<circle cx="716.88" cy="211.67" r="3.5" fill="#00ff00"/>
<circle cx="723.81" cy="211.35" r="3.5" fill="#00ff00"/>
<circle cx="730.74" cy="211.04" r="3.5" fill="#00ff00"/>
<circle cx="737.67" cy="210.73" r="3.5" fill="#00ff00"/>
<path d="M462.2 193.36L466.1 200.06L458.3 200.06Z" fill="#8000ff"/>
<path d="M467.4 195.69L471.3 202.39L463.5 202.39Z" fill="#8000ff"/>
<path d="M474.33 198.47L478.23 205.17L470.43 205.17Z" fill="#8000ff"/>
<path d="M481.26 200.77L485.16 207.47L477.36 207.47Z" fill="#8000ff"/>
<path d="M488.19 202.66L492.09 209.36L484.29 209.36Z" fill="#8000ff"/>
<path d="M495.12 204.22L499.02 210.92L491.22 210.92Z" fill="#8000ff"/>
<path d="M502.05 205.66L505.95 212.36L498.15 212.36Z" fill="#8000ff"/>
<path d="M508.98 206.78L512.88 213.48L505.08 213.48Z" fill="#8000ff"/>
<path d="M515.91 207.61L519.81 214.31L512.01 214.31Z" fill="#8000ff"/>
<path d="M522.84 208.44L526.74 215.14L518.94 215.14Z" fill="#8000ff"/>
<path d="M529.77 209.1L533.67 215.8L525.87 215.8Z" fill="#8000ff"/>
<path d="M536.7 209.73L540.6 216.43L532.8 216.43Z" fill="#8000ff"/>
<path d="M543.63 210.15L547.53 216.85L539.73 216.85Z" fill="#8000ff"/>
<path d="M550.56 210.54L554.46 217.24L546.66 217.24Z" fill="#8000ff"/>
<path d="M557.49 210.84L561.39 217.54L553.59 217.54Z" fill="#8000ff"/>
<path d="M564.42 211.14L568.32 217.84L560.52 217.84Z" fill="#8000ff"/>
<path d="M571.35 211.36L575.25 218.06L567.45 218.06Z" fill="#8000ff"/>
<path d="M578.28 211.43L582.18 218.13L574.38 218.13Z" fill="#8000ff"/>
<path d="M585.21 211.48L589.11 218.18L581.31 218.18Z" fill="#8000ff"/>
<path d="M592.14 211.52L596.04 218.22L588.24 218.22Z" fill="#8000ff"/>
<path d="M599.07 211.54L602.97 218.24L595.17 218.24Z" fill="#8000ff"/>
<path d="M606 211.53L609.9 218.23L602.1 218.23Z" fill="#8000ff"/>
<path d="M612.93 211.4L616.83 218.1L609.03 218.1Z" fill="#8000ff"/>
<path d="M619.86 211.25L623.76 217.95L615.96 217.95Z" fill="#8000ff"/>
<path d="M626.79 211.15L630.69 217.85L622.89 217.85Z" fill="#8000ff"/>
<path d="M633.72 211.06L637.62 217.76L629.82 217.76Z" fill="#8000ff"/>
<path d="M640.65 210.96L644.55 217.66L636.75 217.66Z" fill="#8000ff"/>
<path d="M647.58 210.86L651.48 217.56L643.68 217.56Z" fill="#8000ff"/>
<path d="M654.51 210.74L658.41 217.44L650.61 217.44Z" fill="#8000ff"/>
<path d="M661.44 210.58L665.34 217.28L657.54 217.28Z" fill="#8000ff"/>
<path d="M668.37 210.33L672.27 217.03L664.47 217.03Z" fill="#8000ff"/>
<path d="M675.3 210.01L679.2 216.71L671.4 216.71Z" fill="#8000ff"/>
<path d="M682.23 209.65L686.13 216.35L678.33 216.35Z" fill="#8000ff"/>
<path d="M689.16 209.27L693.06 215.97L685.26 215.97Z" fill="#8000ff"/>
<path d="M696.09 208.91L699.99 215.61L692.19 215.61Z" fill="#8000ff"/>
<path d="M703.02 208.58L706.92 215.28L699.12 215.28Z" fill="#8000ff"/>
<path d="M709.95 208.25L713.85 214.95L706.05 214.95Z" fill="#8000ff"/>
<path d="M716.88 207.91L720.78 214.61L712.98 214.61Z" fill="#8000ff"/>
<path d="M723.81 207.57L727.71 214.27L719.91 214.27Z" fill="#8000ff"/>
<path d="M730.74 207.23L734.64 213.93L726.84 213.93Z" fill="#8000ff"/>
<path d="M737.67 206.89L741.57 213.59L733.77 213.59Z" fill="#8000ff"/>
<path d="M458.3 39.34L466.1 39.34L462.2 46.04Z" fill="#ff8000"/>
<path d="M463.5 64.16L471.3 64.16L467.4 70.86Z" fill="#ff8000"/>
<path d="M470.43 96.44L478.23 96.44L474.33 103.14Z" fill="#ff8000"/>
<path d="M477.36 119.2L485.16 119.2L481.26 125.9Z" fill="#ff8000"/>
<path d="M484.29 135.21L492.09 135.21L488.19 141.91Z" fill="#ff8000"/>
<path d="M491.22 145.93L499.02 145.93L495.12 152.63Z" fill="#ff8000"/>
<path d="M498.15 153.65L505.95 153.65L502.05 160.35Z" fill="#ff8000"/>
<path d="M505.08 158.86L512.88 158.86L508.98 165.56Z" fill="#ff8000"/>
<path d="M512.01 162.98L519.81 162.98L515.91 169.68Z" fill="#ff8000"/>
<path d="M518.94 166.2L526.74 166.2L522.84 172.9Z" fill="#ff8000"/>
<path d="M525.87 169.22L533.67 169.22L529.77 175.92Z" fill="#ff8000"/>
<path d="M532.8 172.41L540.6 172.41L536.7 179.11Z" fill="#ff8000"/>
<path d="M539.73 175.44L547.53 175.44L543.63 182.14Z" fill="#ff8000"/>
<path d="M546.66 179L554.46 179L550.56 185.7Z" fill="#ff8000"/>
<path d="M553.59 182.01L561.39 182.01L557.49 188.71Z" fill="#ff8000"/>
<path d="M560.52 185.11L568.32 185.11L564.42 191.81Z" fill="#ff8000"/>
<path d="M567.45 188.17L575.25 188.17L571.35 194.87Z" fill="#ff8000"/>
<path d="M574.38 191.06L582.18 191.06L578.28 197.76Z" fill="#ff8000"/>
<path d="M581.31 193.56L589.11 193.56L585.21 200.26Z" fill="#ff8000"/>
<path d="M588.24 195.86L596.04 195.86L592.14 202.56Z" fill="#ff8000"/>
<path d="M595.17 197.99L602.97 197.99L599.07 204.69Z" fill="#ff8000"/>
<path d="M602.1 199.91L609.9 199.91L606 206.61Z" fill="#ff8000"/>
<path d="M609.03 201.69L616.83 201.69L612.93 208.39Z" fill="#ff8000"/>
<path d="M615.96 203.17L623.76 203.17L619.86 209.87Z" fill="#ff8000"/>
<path d="M622.89 204.27L630.69 204.27L626.79 210.97Z" fill="#ff8000"/>
<path d="M629.82 205.34L637.62 205.34L633.72 212.04Z" fill="#ff8000"/>
<path d="M636.75 206.35L644.55 206.35L640.65 213.05Z" fill="#ff8000"/>
<path d="M643.68 207.03L651.48 207.03L647.58 213.73Z" fill="#ff8000"/>
<path d="M650.61 207.54L658.41 207.54L654.51 214.24Z" fill="#ff8000"/>
<path d="M657.54 207.92L665.34 207.92L661.44 214.62Z" fill="#ff8000"/>
<path d="M664.47 207.94L672.27 207.94L668.37 214.64Z" fill="#ff8000"/>
<path d="M671.4 207.95L679.2 207.95L675.3 214.65Z" fill="#ff8000"/>
<path d="M678.33 207.96L686.13 207.96L682.23 214.66Z" fill="#ff8000"/>
<path d="M685.26 207.96L693.06 207.96L689.16 214.66Z" fill="#ff8000"/>
<path d="M692.19 207.96L699.99 207.96L696.09 214.66Z" fill="#ff8000"/>
<path d="M699.12 207.95L706.92 207.95L703.02 214.65Z" fill="#ff8000"/>
<path d="M706.05 207.86L713.85 207.86L709.95 214.56Z" fill="#ff8000"/>
<path d="M712.98 207.71L720.78 207.71L716.88 214.41Z" fill="#ff8000"/>
<path d="M719.91 207.51L727.71 207.51L723.81 214.21Z" fill="#ff8000"/>
<path d="M726.84 207.28L734.64 207.28L730.74 213.98Z" fill="#ff8000"/>
<path d="M733.77 207.02L741.57 207.02L737.67 213.72Z" fill="#ff8000"/>
</g>
<rect x="462.2" y="13.8" width="276.8" height="223.8" fill="none" stroke="#000" stroke-width="2.2"/>
<line x1="462.2" y1="217.25" x2="457.8" y2="217.25" stroke="#000" stroke-width="2"/>
<line x1="462.2" y1="176.56" x2="457.8" y2="176.56" stroke="#000" stroke-width="2"/>
<line x1="462.2" y1="135.87" x2="457.8" y2="135.87" stroke="#000" stroke-width="2"/>
<line x1="462.2" y1="95.18" x2="457.8" y2="95.18" stroke="#000" stroke-width="2"/>
<line x1="462.2" y1="54.49" x2="457.8" y2="54.49" stroke="#000" stroke-width="2"/>
<line x1="462.2" y1="13.8" x2="457.8" y2="13.8" stroke="#000" stroke-width="2"/>
<line x1="462.2" y1="237.6" x2="459.4" y2="237.6" stroke="#000" stroke-width="1.7"/>
<line x1="462.2" y1="196.91" x2="459.4" y2="196.91" stroke="#000" stroke-width="1.7"/>
<line x1="462.2" y1="156.22" x2="459.4" y2="156.22" stroke="#000" stroke-width="1.7"/>
<line x1="462.2" y1="115.53" x2="459.4" y2="115.53" stroke="#000" stroke-width="1.7"/>
<line x1="462.2" y1="74.84" x2="459.4" y2="74.84" stroke="#000" stroke-width="1.7"/>
<line x1="462.2" y1="34.15" x2="459.4" y2="34.15" stroke="#000" stroke-width="1.7"/>
<line x1="462.2" y1="237.6" x2="462.2" y2="242" stroke="#000" stroke-width="2"/>
<line x1="501.5" y1="237.6" x2="501.5" y2="242" stroke="#000" stroke-width="2"/>
<line x1="540.8" y1="237.6" x2="540.8" y2="242" stroke="#000" stroke-width="2"/>
<line x1="580.1" y1="237.6" x2="580.1" y2="242" stroke="#000" stroke-width="2"/>
<line x1="619.4" y1="237.6" x2="619.4" y2="242" stroke="#000" stroke-width="2"/>
<line x1="658.7" y1="237.6" x2="658.7" y2="242" stroke="#000" stroke-width="2"/>
<line x1="698" y1="237.6" x2="698" y2="242" stroke="#000" stroke-width="2"/>
<line x1="737.3" y1="237.6" x2="737.3" y2="242" stroke="#000" stroke-width="2"/>
<line x1="474.03" y1="237.6" x2="474.03" y2="240.4" stroke="#000" stroke-width="1.7"/>
<line x1="480.95" y1="237.6" x2="480.95" y2="240.4" stroke="#000" stroke-width="1.7"/>
<line x1="485.86" y1="237.6" x2="485.86" y2="240.4" stroke="#000" stroke-width="1.7"/>
<line x1="489.67" y1="237.6" x2="489.67" y2="240.4" stroke="#000" stroke-width="1.7"/>
<line x1="492.78" y1="237.6" x2="492.78" y2="240.4" stroke="#000" stroke-width="1.7"/>
<line x1="495.41" y1="237.6" x2="495.41" y2="240.4" stroke="#000" stroke-width="1.7"/>
<line x1="497.69" y1="237.6" x2="497.69" y2="240.4" stroke="#000" stroke-width="1.7"/>
<line x1="499.7" y1="237.6" x2="499.7" y2="240.4" stroke="#000" stroke-width="1.7"/>
<line x1="513.33" y1="237.6" x2="513.33" y2="240.4" stroke="#000" stroke-width="1.7"/>
<line x1="520.25" y1="237.6" x2="520.25" y2="240.4" stroke="#000" stroke-width="1.7"/>
<line x1="525.16" y1="237.6" x2="525.16" y2="240.4" stroke="#000" stroke-width="1.7"/>
<line x1="528.97" y1="237.6" x2="528.97" y2="240.4" stroke="#000" stroke-width="1.7"/>
<line x1="532.08" y1="237.6" x2="532.08" y2="240.4" stroke="#000" stroke-width="1.7"/>
<line x1="534.71" y1="237.6" x2="534.71" y2="240.4" stroke="#000" stroke-width="1.7"/>
<line x1="536.99" y1="237.6" x2="536.99" y2="240.4" stroke="#000" stroke-width="1.7"/>
<line x1="539" y1="237.6" x2="539" y2="240.4" stroke="#000" stroke-width="1.7"/>
<line x1="552.63" y1="237.6" x2="552.63" y2="240.4" stroke="#000" stroke-width="1.7"/>
<line x1="559.55" y1="237.6" x2="559.55" y2="240.4" stroke="#000" stroke-width="1.7"/>
<line x1="564.46" y1="237.6" x2="564.46" y2="240.4" stroke="#000" stroke-width="1.7"/>
<line x1="568.27" y1="237.6" x2="568.27" y2="240.4" stroke="#000" stroke-width="1.7"/>
<line x1="571.38" y1="237.6" x2="571.38" y2="240.4" stroke="#000" stroke-width="1.7"/>
<line x1="574.01" y1="237.6" x2="574.01" y2="240.4" stroke="#000" stroke-width="1.7"/>
<line x1="576.29" y1="237.6" x2="576.29" y2="240.4" stroke="#000" stroke-width="1.7"/>
<line x1="578.3" y1="237.6" x2="578.3" y2="240.4" stroke="#000" stroke-width="1.7"/>
<line x1="591.93" y1="237.6" x2="591.93" y2="240.4" stroke="#000" stroke-width="1.7"/>
<line x1="598.85" y1="237.6" x2="598.85" y2="240.4" stroke="#000" stroke-width="1.7"/>
<line x1="603.76" y1="237.6" x2="603.76" y2="240.4" stroke="#000" stroke-width="1.7"/>
<line x1="607.57" y1="237.6" x2="607.57" y2="240.4" stroke="#000" stroke-width="1.7"/>
<line x1="610.68" y1="237.6" x2="610.68" y2="240.4" stroke="#000" stroke-width="1.7"/>
<line x1="613.31" y1="237.6" x2="613.31" y2="240.4" stroke="#000" stroke-width="1.7"/>
<line x1="615.59" y1="237.6" x2="615.59" y2="240.4" stroke="#000" stroke-width="1.7"/>
<line x1="617.6" y1="237.6" x2="617.6" y2="240.4" stroke="#000" stroke-width="1.7"/>
<line x1="631.23" y1="237.6" x2="631.23" y2="240.4" stroke="#000" stroke-width="1.7"/>
<line x1="638.15" y1="237.6" x2="638.15" y2="240.4" stroke="#000" stroke-width="1.7"/>
<line x1="643.06" y1="237.6" x2="643.06" y2="240.4" stroke="#000" stroke-width="1.7"/>
<line x1="646.87" y1="237.6" x2="646.87" y2="240.4" stroke="#000" stroke-width="1.7"/>
<line x1="649.98" y1="237.6" x2="649.98" y2="240.4" stroke="#000" stroke-width="1.7"/>
<line x1="652.61" y1="237.6" x2="652.61" y2="240.4" stroke="#000" stroke-width="1.7"/>
<line x1="654.89" y1="237.6" x2="654.89" y2="240.4" stroke="#000" stroke-width="1.7"/>
<line x1="656.9" y1="237.6" x2="656.9" y2="240.4" stroke="#000" stroke-width="1.7"/>
<line x1="670.53" y1="237.6" x2="670.53" y2="240.4" stroke="#000" stroke-width="1.7"/>
<line x1="677.45" y1="237.6" x2="677.45" y2="240.4" stroke="#000" stroke-width="1.7"/>
<line x1="682.36" y1="237.6" x2="682.36" y2="240.4" stroke="#000" stroke-width="1.7"/>
<line x1="686.17" y1="237.6" x2="686.17" y2="240.4" stroke="#000" stroke-width="1.7"/>
<line x1="689.28" y1="237.6" x2="689.28" y2="240.4" stroke="#000" stroke-width="1.7"/>
<line x1="691.91" y1="237.6" x2="691.91" y2="240.4" stroke="#000" stroke-width="1.7"/>
<line x1="694.19" y1="237.6" x2="694.19" y2="240.4" stroke="#000" stroke-width="1.7"/>
<line x1="696.2" y1="237.6" x2="696.2" y2="240.4" stroke="#000" stroke-width="1.7"/>
<line x1="709.83" y1="237.6" x2="709.83" y2="240.4" stroke="#000" stroke-width="1.7"/>
<line x1="716.75" y1="237.6" x2="716.75" y2="240.4" stroke="#000" stroke-width="1.7"/>
<line x1="721.66" y1="237.6" x2="721.66" y2="240.4" stroke="#000" stroke-width="1.7"/>
<line x1="725.47" y1="237.6" x2="725.47" y2="240.4" stroke="#000" stroke-width="1.7"/>
<line x1="728.58" y1="237.6" x2="728.58" y2="240.4" stroke="#000" stroke-width="1.7"/>
<line x1="731.21" y1="237.6" x2="731.21" y2="240.4" stroke="#000" stroke-width="1.7"/>
<line x1="733.49" y1="237.6" x2="733.49" y2="240.4" stroke="#000" stroke-width="1.7"/>
<line x1="735.5" y1="237.6" x2="735.5" y2="240.4" stroke="#000" stroke-width="1.7"/>
<text transform="translate(436.86 221.75) scale(1 1.13)" x="0" y="0" font-family="Liberation Sans" font-size="13.7" font-weight="bold" stroke="#000" stroke-width="0.3">0.0</text>
<text transform="translate(436.86 181.06) scale(1 1.13)" x="0" y="0" font-family="Liberation Sans" font-size="13.7" font-weight="bold" stroke="#000" stroke-width="0.3">0.</text><path transform="translate(448.28 181.06) scale(0.00669 -0.00756)" d="M806 0H525V1018Q371 879 162 813V1058Q272 1093 401 1190Q530 1287 578 1409H806Z" fill="#000" stroke="#000" stroke-width="44.8"/>
<text transform="translate(436.86 140.37) scale(1 1.13)" x="0" y="0" font-family="Liberation Sans" font-size="13.7" font-weight="bold" stroke="#000" stroke-width="0.3">0.2</text>
<text transform="translate(436.86 99.68) scale(1 1.13)" x="0" y="0" font-family="Liberation Sans" font-size="13.7" font-weight="bold" stroke="#000" stroke-width="0.3">0.3</text>
<text transform="translate(436.86 58.99) scale(1 1.13)" x="0" y="0" font-family="Liberation Sans" font-size="13.7" font-weight="bold" stroke="#000" stroke-width="0.3">0.4</text>
<text transform="translate(436.86 18.3) scale(1 1.13)" x="0" y="0" font-family="Liberation Sans" font-size="13.7" font-weight="bold" stroke="#000" stroke-width="0.3">0.5</text>
<path transform="translate(451.07 257.7) scale(0.00669 -0.00756)" d="M806 0H525V1018Q371 879 162 813V1058Q272 1093 401 1190Q530 1287 578 1409H806Z" fill="#000" stroke="#000" stroke-width="44.8"/><text transform="translate(458.69 257.7) scale(1 1.13)" x="0" y="0" font-family="Liberation Sans" font-size="13.7" font-weight="bold" stroke="#000" stroke-width="0.3">0</text><text transform="translate(466.61 250.4) scale(1 1.13)" x="0" y="0" font-family="Liberation Sans" font-size="7.9" font-weight="bold" stroke="#000" stroke-width="0.3">-</text><path transform="translate(469.24 250.4) scale(0.00386 -0.00436)" d="M806 0H525V1018Q371 879 162 813V1058Q272 1093 401 1190Q530 1287 578 1409H806Z" fill="#000" stroke="#000" stroke-width="77.8"/>
<path transform="translate(491.69 257.7) scale(0.00669 -0.00756)" d="M806 0H525V1018Q371 879 162 813V1058Q272 1093 401 1190Q530 1287 578 1409H806Z" fill="#000" stroke="#000" stroke-width="44.8"/><text transform="translate(499.3 257.7) scale(1 1.13)" x="0" y="0" font-family="Liberation Sans" font-size="13.7" font-weight="bold" stroke="#000" stroke-width="0.3">0</text><text transform="translate(507.22 250.4) scale(1 1.13)" x="0" y="0" font-family="Liberation Sans" font-size="7.9" font-weight="bold" stroke="#000" stroke-width="0.3">0</text>
<path transform="translate(530.99 257.7) scale(0.00669 -0.00756)" d="M806 0H525V1018Q371 879 162 813V1058Q272 1093 401 1190Q530 1287 578 1409H806Z" fill="#000" stroke="#000" stroke-width="44.8"/><text transform="translate(538.6 257.7) scale(1 1.13)" x="0" y="0" font-family="Liberation Sans" font-size="13.7" font-weight="bold" stroke="#000" stroke-width="0.3">0</text><path transform="translate(546.52 250.4) scale(0.00386 -0.00436)" d="M806 0H525V1018Q371 879 162 813V1058Q272 1093 401 1190Q530 1287 578 1409H806Z" fill="#000" stroke="#000" stroke-width="77.8"/>
<path transform="translate(570.29 257.7) scale(0.00669 -0.00756)" d="M806 0H525V1018Q371 879 162 813V1058Q272 1093 401 1190Q530 1287 578 1409H806Z" fill="#000" stroke="#000" stroke-width="44.8"/><text transform="translate(577.9 257.7) scale(1 1.13)" x="0" y="0" font-family="Liberation Sans" font-size="13.7" font-weight="bold" stroke="#000" stroke-width="0.3">0</text><text transform="translate(585.82 250.4) scale(1 1.13)" x="0" y="0" font-family="Liberation Sans" font-size="7.9" font-weight="bold" stroke="#000" stroke-width="0.3">2</text>
<path transform="translate(609.59 257.7) scale(0.00669 -0.00756)" d="M806 0H525V1018Q371 879 162 813V1058Q272 1093 401 1190Q530 1287 578 1409H806Z" fill="#000" stroke="#000" stroke-width="44.8"/><text transform="translate(617.2 257.7) scale(1 1.13)" x="0" y="0" font-family="Liberation Sans" font-size="13.7" font-weight="bold" stroke="#000" stroke-width="0.3">0</text><text transform="translate(625.12 250.4) scale(1 1.13)" x="0" y="0" font-family="Liberation Sans" font-size="7.9" font-weight="bold" stroke="#000" stroke-width="0.3">3</text>
<path transform="translate(648.89 257.7) scale(0.00669 -0.00756)" d="M806 0H525V1018Q371 879 162 813V1058Q272 1093 401 1190Q530 1287 578 1409H806Z" fill="#000" stroke="#000" stroke-width="44.8"/><text transform="translate(656.5 257.7) scale(1 1.13)" x="0" y="0" font-family="Liberation Sans" font-size="13.7" font-weight="bold" stroke="#000" stroke-width="0.3">0</text><text transform="translate(664.42 250.4) scale(1 1.13)" x="0" y="0" font-family="Liberation Sans" font-size="7.9" font-weight="bold" stroke="#000" stroke-width="0.3">4</text>
<path transform="translate(688.19 257.7) scale(0.00669 -0.00756)" d="M806 0H525V1018Q371 879 162 813V1058Q272 1093 401 1190Q530 1287 578 1409H806Z" fill="#000" stroke="#000" stroke-width="44.8"/><text transform="translate(695.8 257.7) scale(1 1.13)" x="0" y="0" font-family="Liberation Sans" font-size="13.7" font-weight="bold" stroke="#000" stroke-width="0.3">0</text><text transform="translate(703.72 250.4) scale(1 1.13)" x="0" y="0" font-family="Liberation Sans" font-size="7.9" font-weight="bold" stroke="#000" stroke-width="0.3">5</text>
<path transform="translate(727.49 257.7) scale(0.00669 -0.00756)" d="M806 0H525V1018Q371 879 162 813V1058Q272 1093 401 1190Q530 1287 578 1409H806Z" fill="#000" stroke="#000" stroke-width="44.8"/><text transform="translate(735.1 257.7) scale(1 1.13)" x="0" y="0" font-family="Liberation Sans" font-size="13.7" font-weight="bold" stroke="#000" stroke-width="0.3">0</text><text transform="translate(743.02 250.4) scale(1 1.13)" x="0" y="0" font-family="Liberation Sans" font-size="7.9" font-weight="bold" stroke="#000" stroke-width="0.3">6</text>
<clipPath id="cc"><rect x="56.1" y="309.9" width="276.9" height="223.7"/></clipPath>
<g clip-path="url(#cc)">
<rect x="57.5" y="506.01" width="6.5" height="6.5" fill="#000000"/>
<rect x="64.93" y="506.25" width="6.5" height="6.5" fill="#000000"/>
<rect x="72.35" y="506.46" width="6.5" height="6.5" fill="#000000"/>
<rect x="79.78" y="506.66" width="6.5" height="6.5" fill="#000000"/>
<rect x="87.2" y="506.83" width="6.5" height="6.5" fill="#000000"/>
<rect x="94.63" y="507" width="6.5" height="6.5" fill="#000000"/>
<rect x="102.06" y="507.14" width="6.5" height="6.5" fill="#000000"/>
<rect x="109.48" y="507.27" width="6.5" height="6.5" fill="#000000"/>
<rect x="116.91" y="507.38" width="6.5" height="6.5" fill="#000000"/>
<rect x="124.33" y="507.48" width="6.5" height="6.5" fill="#000000"/>
<rect x="131.76" y="507.58" width="6.5" height="6.5" fill="#000000"/>
<rect x="139.19" y="507.69" width="6.5" height="6.5" fill="#000000"/>
<rect x="146.61" y="507.8" width="6.5" height="6.5" fill="#000000"/>
<rect x="154.04" y="507.96" width="6.5" height="6.5" fill="#000000"/>
<rect x="161.46" y="508.14" width="6.5" height="6.5" fill="#000000"/>
<rect x="168.89" y="508.34" width="6.5" height="6.5" fill="#000000"/>
<rect x="176.32" y="508.57" width="6.5" height="6.5" fill="#000000"/>
<rect x="183.74" y="508.83" width="6.5" height="6.5" fill="#000000"/>
<rect x="191.17" y="509.11" width="6.5" height="6.5" fill="#000000"/>
<rect x="198.59" y="509.41" width="6.5" height="6.5" fill="#000000"/>
<rect x="206.02" y="509.73" width="6.5" height="6.5" fill="#000000"/>
<rect x="213.45" y="510.07" width="6.5" height="6.5" fill="#000000"/>
<rect x="220.87" y="510.42" width="6.5" height="6.5" fill="#000000"/>
<rect x="228.3" y="510.79" width="6.5" height="6.5" fill="#000000"/>
<rect x="235.72" y="511.16" width="6.5" height="6.5" fill="#000000"/>
<rect x="243.15" y="511.55" width="6.5" height="6.5" fill="#000000"/>
<rect x="250.58" y="511.95" width="6.5" height="6.5" fill="#000000"/>
<rect x="258" y="512.41" width="6.5" height="6.5" fill="#000000"/>
<rect x="265.43" y="512.89" width="6.5" height="6.5" fill="#000000"/>
<rect x="272.85" y="513.41" width="6.5" height="6.5" fill="#000000"/>
<rect x="280.28" y="513.94" width="6.5" height="6.5" fill="#000000"/>
<rect x="287.71" y="514.48" width="6.5" height="6.5" fill="#000000"/>
<rect x="295.13" y="515.02" width="6.5" height="6.5" fill="#000000"/>
<rect x="302.56" y="515.52" width="6.5" height="6.5" fill="#000000"/>
<rect x="309.98" y="515.99" width="6.5" height="6.5" fill="#000000"/>
<rect x="317.41" y="516.44" width="6.5" height="6.5" fill="#000000"/>
<rect x="324.84" y="516.87" width="6.5" height="6.5" fill="#000000"/>
<rect x="332.26" y="517.29" width="6.5" height="6.5" fill="#000000"/>
<circle cx="60.75" cy="508.87" r="3.5" fill="#ff00ff"/>
<circle cx="68.18" cy="509.03" r="3.5" fill="#ff00ff"/>
<circle cx="75.6" cy="509.16" r="3.5" fill="#ff00ff"/>
<circle cx="83.03" cy="509.27" r="3.5" fill="#ff00ff"/>
<circle cx="90.45" cy="509.36" r="3.5" fill="#ff00ff"/>
<circle cx="97.88" cy="509.46" r="3.5" fill="#ff00ff"/>
<circle cx="105.31" cy="509.57" r="3.5" fill="#ff00ff"/>
<circle cx="112.73" cy="509.66" r="3.5" fill="#ff00ff"/>
<circle cx="120.16" cy="509.75" r="3.5" fill="#ff00ff"/>
<circle cx="127.58" cy="509.84" r="3.5" fill="#ff00ff"/>
<circle cx="135.01" cy="509.92" r="3.5" fill="#ff00ff"/>
<circle cx="142.44" cy="510.02" r="3.5" fill="#ff00ff"/>
<circle cx="149.86" cy="510.11" r="3.5" fill="#ff00ff"/>
<circle cx="157.29" cy="510.22" r="3.5" fill="#ff00ff"/>
<circle cx="164.71" cy="510.35" r="3.5" fill="#ff00ff"/>
<circle cx="172.14" cy="510.49" r="3.5" fill="#ff00ff"/>
<circle cx="179.57" cy="510.66" r="3.5" fill="#ff00ff"/>
<circle cx="186.99" cy="510.86" r="3.5" fill="#ff00ff"/>
<circle cx="194.42" cy="511.08" r="3.5" fill="#ff00ff"/>
<circle cx="201.84" cy="511.33" r="3.5" fill="#ff00ff"/>
<circle cx="209.27" cy="511.59" r="3.5" fill="#ff00ff"/>
<circle cx="216.7" cy="511.88" r="3.5" fill="#ff00ff"/>
<circle cx="224.12" cy="512.17" r="3.5" fill="#ff00ff"/>
<circle cx="231.55" cy="512.48" r="3.5" fill="#ff00ff"/>
<circle cx="238.97" cy="512.8" r="3.5" fill="#ff00ff"/>
<circle cx="246.4" cy="513.12" r="3.5" fill="#ff00ff"/>
<circle cx="253.83" cy="513.46" r="3.5" fill="#ff00ff"/>
<circle cx="261.25" cy="513.83" r="3.5" fill="#ff00ff"/>
<circle cx="268.68" cy="514.23" r="3.5" fill="#ff00ff"/>
<circle cx="276.1" cy="514.66" r="3.5" fill="#ff00ff"/>
<circle cx="283.53" cy="515.1" r="3.5" fill="#ff00ff"/>
<circle cx="290.96" cy="515.55" r="3.5" fill="#ff00ff"/>
<circle cx="298.38" cy="516" r="3.5" fill="#ff00ff"/>
<circle cx="305.81" cy="516.46" r="3.5" fill="#ff00ff"/>
<circle cx="313.23" cy="516.9" r="3.5" fill="#ff00ff"/>
<circle cx="320.66" cy="517.33" r="3.5" fill="#ff00ff"/>
<circle cx="328.09" cy="517.76" r="3.5" fill="#ff00ff"/>
<circle cx="335.51" cy="518.19" r="3.5" fill="#ff00ff"/>
<path d="M60.75 503.16L64.65 509.86L56.85 509.86Z" fill="#00ff00"/>
<path d="M68.18 503.4L72.08 510.1L64.28 510.1Z" fill="#00ff00"/>
<path d="M75.6 503.62L79.5 510.32L71.7 510.32Z" fill="#00ff00"/>
<path d="M83.03 503.82L86.93 510.52L79.13 510.52Z" fill="#00ff00"/>
<path d="M90.45 504L94.35 510.7L86.55 510.7Z" fill="#00ff00"/>
<path d="M97.88 504.15L101.78 510.85L93.98 510.85Z" fill="#00ff00"/>
<path d="M105.31 504.28L109.21 510.98L101.41 510.98Z" fill="#00ff00"/>
<path d="M112.73 504.39L116.63 511.09L108.83 511.09Z" fill="#00ff00"/>
<path d="M120.16 504.49L124.06 511.19L116.26 511.19Z" fill="#00ff00"/>
<path d="M127.58 504.58L131.48 511.28L123.68 511.28Z" fill="#00ff00"/>
<path d="M135.01 504.66L138.91 511.36L131.11 511.36Z" fill="#00ff00"/>
<path d="M142.44 504.75L146.34 511.45L138.54 511.45Z" fill="#00ff00"/>
<path d="M149.86 504.84L153.76 511.54L145.96 511.54Z" fill="#00ff00"/>
<path d="M157.29 504.93L161.19 511.63L153.39 511.63Z" fill="#00ff00"/>
<path d="M164.71 505.04L168.61 511.74L160.81 511.74Z" fill="#00ff00"/>
<path d="M172.14 505.17L176.04 511.87L168.24 511.87Z" fill="#00ff00"/>
<path d="M179.57 505.31L183.47 512.01L175.67 512.01Z" fill="#00ff00"/>
<path d="M186.99 505.45L190.89 512.15L183.09 512.15Z" fill="#00ff00"/>
<path d="M194.42 505.6L198.32 512.3L190.52 512.3Z" fill="#00ff00"/>
<path d="M201.84 505.76L205.74 512.46L197.94 512.46Z" fill="#00ff00"/>
<path d="M209.27 505.94L213.17 512.64L205.37 512.64Z" fill="#00ff00"/>
<path d="M216.7 506.13L220.6 512.83L212.8 512.83Z" fill="#00ff00"/>
<path d="M224.12 506.33L228.02 513.03L220.22 513.03Z" fill="#00ff00"/>
<path d="M231.55 506.55L235.45 513.25L227.65 513.25Z" fill="#00ff00"/>
<path d="M238.97 506.78L242.87 513.48L235.07 513.48Z" fill="#00ff00"/>
<path d="M246.4 507.04L250.3 513.74L242.5 513.74Z" fill="#00ff00"/>
<path d="M253.83 507.34L257.73 514.04L249.93 514.04Z" fill="#00ff00"/>
<path d="M261.25 507.72L265.15 514.42L257.35 514.42Z" fill="#00ff00"/>
<path d="M268.68 508.17L272.58 514.87L264.78 514.87Z" fill="#00ff00"/>
<path d="M276.1 508.67L280 515.37L272.2 515.37Z" fill="#00ff00"/>
<path d="M283.53 509.2L287.43 515.9L279.63 515.9Z" fill="#00ff00"/>
<path d="M290.96 509.73L294.86 516.43L287.06 516.43Z" fill="#00ff00"/>
<path d="M298.38 510.26L302.28 516.96L294.48 516.96Z" fill="#00ff00"/>
<path d="M305.81 510.76L309.71 517.46L301.91 517.46Z" fill="#00ff00"/>
<path d="M313.23 511.21L317.13 517.91L309.33 517.91Z" fill="#00ff00"/>
<path d="M320.66 511.6L324.56 518.3L316.76 518.3Z" fill="#00ff00"/>
<path d="M328.09 511.94L331.99 518.64L324.19 518.64Z" fill="#00ff00"/>
<path d="M335.51 512.26L339.41 518.96L331.61 518.96Z" fill="#00ff00"/>
<path d="M56.85 500.88L64.65 500.88L60.75 507.58Z" fill="#8000ff"/>
<path d="M64.28 501.37L72.08 501.37L68.18 508.07Z" fill="#8000ff"/>
<path d="M71.7 501.92L79.5 501.92L75.6 508.62Z" fill="#8000ff"/>
<path d="M79.13 502.48L86.93 502.48L83.03 509.18Z" fill="#8000ff"/>
<path d="M86.55 502.98L94.35 502.98L90.45 509.68Z" fill="#8000ff"/>
<path d="M93.98 503.36L101.78 503.36L97.88 510.06Z" fill="#8000ff"/>
<path d="M101.41 503.64L109.21 503.64L105.31 510.34Z" fill="#8000ff"/>
<path d="M108.83 503.89L116.63 503.89L112.73 510.59Z" fill="#8000ff"/>
<path d="M116.26 504.12L124.06 504.12L120.16 510.82Z" fill="#8000ff"/>
<path d="M123.68 504.32L131.48 504.32L127.58 511.02Z" fill="#8000ff"/>
<path d="M131.11 504.5L138.91 504.5L135.01 511.2Z" fill="#8000ff"/>
<path d="M138.54 504.68L146.34 504.68L142.44 511.38Z" fill="#8000ff"/>
<path d="M145.96 504.85L153.76 504.85L149.86 511.55Z" fill="#8000ff"/>
<path d="M153.39 505.02L161.19 505.02L157.29 511.72Z" fill="#8000ff"/>
<path d="M160.81 505.19L168.61 505.19L164.71 511.89Z" fill="#8000ff"/>
<path d="M168.24 505.38L176.04 505.38L172.14 512.08Z" fill="#8000ff"/>
<path d="M175.67 505.57L183.47 505.57L179.57 512.27Z" fill="#8000ff"/>
<path d="M183.09 505.74L190.89 505.74L186.99 512.44Z" fill="#8000ff"/>
<path d="M190.52 505.91L198.32 505.91L194.42 512.61Z" fill="#8000ff"/>
<path d="M197.94 506.07L205.74 506.07L201.84 512.77Z" fill="#8000ff"/>
<path d="M205.37 506.24L213.17 506.24L209.27 512.94Z" fill="#8000ff"/>
<path d="M212.8 506.41L220.6 506.41L216.7 513.11Z" fill="#8000ff"/>
<path d="M220.22 506.59L228.02 506.59L224.12 513.29Z" fill="#8000ff"/>
<path d="M227.65 506.79L235.45 506.79L231.55 513.49Z" fill="#8000ff"/>
<path d="M235.07 507L242.87 507L238.97 513.7Z" fill="#8000ff"/>
<path d="M242.5 507.24L250.3 507.24L246.4 513.94Z" fill="#8000ff"/>
<path d="M249.93 507.5L257.73 507.5L253.83 514.2Z" fill="#8000ff"/>
<path d="M257.35 507.81L265.15 507.81L261.25 514.51Z" fill="#8000ff"/>
<path d="M264.78 508.16L272.58 508.16L268.68 514.86Z" fill="#8000ff"/>
<path d="M272.2 508.53L280 508.53L276.1 515.23Z" fill="#8000ff"/>
<path d="M279.63 508.93L287.43 508.93L283.53 515.63Z" fill="#8000ff"/>
<path d="M287.06 509.35L294.86 509.35L290.96 516.05Z" fill="#8000ff"/>
<path d="M294.48 509.77L302.28 509.77L298.38 516.47Z" fill="#8000ff"/>
<path d="M301.91 510.2L309.71 510.2L305.81 516.9Z" fill="#8000ff"/>
<path d="M309.33 510.61L317.13 510.61L313.23 517.31Z" fill="#8000ff"/>
<path d="M316.76 511.03L324.56 511.03L320.66 517.73Z" fill="#8000ff"/>
<path d="M324.19 511.46L331.99 511.46L328.09 518.16Z" fill="#8000ff"/>
<path d="M331.61 511.89L339.41 511.89L335.51 518.59Z" fill="#8000ff"/>
<path d="M60.75 414.74L64.75 419.04L60.75 423.34L56.75 419.04Z" fill="#ff8000"/>
<path d="M68.18 421.26L72.18 425.56L68.18 429.86L64.18 425.56Z" fill="#ff8000"/>
<path d="M75.6 428.44L79.6 432.74L75.6 437.04L71.6 432.74Z" fill="#ff8000"/>
<path d="M83.03 435.83L87.03 440.13L83.03 444.43L79.03 440.13Z" fill="#ff8000"/>
<path d="M90.45 442.92L94.45 447.22L90.45 451.52L86.45 447.22Z" fill="#ff8000"/>
<path d="M97.88 449.7L101.88 454L97.88 458.3L93.88 454Z" fill="#ff8000"/>
<path d="M105.31 456.07L109.31 460.37L105.31 464.67L101.31 460.37Z" fill="#ff8000"/>
<path d="M112.73 461.57L116.73 465.87L112.73 470.17L108.73 465.87Z" fill="#ff8000"/>
<path d="M120.16 466.54L124.16 470.84L120.16 475.14L116.16 470.84Z" fill="#ff8000"/>
<path d="M127.58 470.85L131.58 475.15L127.58 479.45L123.58 475.15Z" fill="#ff8000"/>
<path d="M135.01 474.7L139.01 479L135.01 483.3L131.01 479Z" fill="#ff8000"/>
<path d="M142.44 478.03L146.44 482.33L142.44 486.63L138.44 482.33Z" fill="#ff8000"/>
<path d="M149.86 480.76L153.86 485.06L149.86 489.36L145.86 485.06Z" fill="#ff8000"/>
<path d="M157.29 483.24L161.29 487.54L157.29 491.84L153.29 487.54Z" fill="#ff8000"/>
<path d="M164.71 485.27L168.71 489.57L164.71 493.87L160.71 489.57Z" fill="#ff8000"/>
<path d="M172.14 487.39L176.14 491.69L172.14 495.99L168.14 491.69Z" fill="#ff8000"/>
<path d="M179.57 489.07L183.57 493.37L179.57 497.67L175.57 493.37Z" fill="#ff8000"/>
<path d="M186.99 490.45L190.99 494.75L186.99 499.05L182.99 494.75Z" fill="#ff8000"/>
<path d="M194.42 491.64L198.42 495.94L194.42 500.24L190.42 495.94Z" fill="#ff8000"/>
<path d="M201.84 492.62L205.84 496.92L201.84 501.22L197.84 496.92Z" fill="#ff8000"/>
<path d="M209.27 493.58L213.27 497.88L209.27 502.18L205.27 497.88Z" fill="#ff8000"/>
<path d="M216.7 494.38L220.7 498.68L216.7 502.98L212.7 498.68Z" fill="#ff8000"/>
<path d="M224.12 495.17L228.12 499.47L224.12 503.77L220.12 499.47Z" fill="#ff8000"/>
<path d="M231.55 495.77L235.55 500.07L231.55 504.37L227.55 500.07Z" fill="#ff8000"/>
<path d="M238.97 496.53L242.97 500.83L238.97 505.13L234.97 500.83Z" fill="#ff8000"/>
<path d="M246.4 497.13L250.4 501.43L246.4 505.73L242.4 501.43Z" fill="#ff8000"/>
<path d="M253.83 497.72L257.83 502.02L253.83 506.32L249.83 502.02Z" fill="#ff8000"/>
<path d="M261.25 498.32L265.25 502.62L261.25 506.92L257.25 502.62Z" fill="#ff8000"/>
<path d="M268.68 498.9L272.68 503.2L268.68 507.5L264.68 503.2Z" fill="#ff8000"/>
<path d="M276.1 499.3L280.1 503.6L276.1 507.9L272.1 503.6Z" fill="#ff8000"/>
<path d="M283.53 499.9L287.53 504.2L283.53 508.5L279.53 504.2Z" fill="#ff8000"/>
<path d="M290.96 500.46L294.96 504.76L290.96 509.06L286.96 504.76Z" fill="#ff8000"/>
<path d="M298.38 500.85L302.38 505.15L298.38 509.45L294.38 505.15Z" fill="#ff8000"/>
<path d="M305.81 501.44L309.81 505.74L305.81 510.04L301.81 505.74Z" fill="#ff8000"/>
<path d="M313.23 502.04L317.23 506.34L313.23 510.64L309.23 506.34Z" fill="#ff8000"/>
<path d="M320.66 502.64L324.66 506.94L320.66 511.24L316.66 506.94Z" fill="#ff8000"/>
<path d="M328.09 503.4L332.09 507.7L328.09 512L324.09 507.7Z" fill="#ff8000"/>
<path d="M335.51 504.14L339.51 508.44L335.51 512.74L331.51 508.44Z" fill="#ff8000"/>
</g>
<rect x="56.1" y="309.9" width="276.9" height="223.7" fill="none" stroke="#000" stroke-width="2.2"/>
<line x1="56.1" y1="506.13" x2="51.7" y2="506.13" stroke="#000" stroke-width="2"/>
<line x1="56.1" y1="466.88" x2="51.7" y2="466.88" stroke="#000" stroke-width="2"/>
<line x1="56.1" y1="427.64" x2="51.7" y2="427.64" stroke="#000" stroke-width="2"/>
<line x1="56.1" y1="388.39" x2="51.7" y2="388.39" stroke="#000" stroke-width="2"/>
<line x1="56.1" y1="349.15" x2="51.7" y2="349.15" stroke="#000" stroke-width="2"/>
<line x1="56.1" y1="309.9" x2="51.7" y2="309.9" stroke="#000" stroke-width="2"/>
<line x1="56.1" y1="525.75" x2="53.3" y2="525.75" stroke="#000" stroke-width="1.7"/>
<line x1="56.1" y1="486.51" x2="53.3" y2="486.51" stroke="#000" stroke-width="1.7"/>
<line x1="56.1" y1="447.26" x2="53.3" y2="447.26" stroke="#000" stroke-width="1.7"/>
<line x1="56.1" y1="408.01" x2="53.3" y2="408.01" stroke="#000" stroke-width="1.7"/>
<line x1="56.1" y1="368.77" x2="53.3" y2="368.77" stroke="#000" stroke-width="1.7"/>
<line x1="56.1" y1="329.52" x2="53.3" y2="329.52" stroke="#000" stroke-width="1.7"/>
<line x1="56.1" y1="533.6" x2="56.1" y2="538" stroke="#000" stroke-width="2"/>
<line x1="95.4" y1="533.6" x2="95.4" y2="538" stroke="#000" stroke-width="2"/>
<line x1="134.7" y1="533.6" x2="134.7" y2="538" stroke="#000" stroke-width="2"/>
<line x1="174" y1="533.6" x2="174" y2="538" stroke="#000" stroke-width="2"/>
<line x1="213.3" y1="533.6" x2="213.3" y2="538" stroke="#000" stroke-width="2"/>
<line x1="252.6" y1="533.6" x2="252.6" y2="538" stroke="#000" stroke-width="2"/>
<line x1="291.9" y1="533.6" x2="291.9" y2="538" stroke="#000" stroke-width="2"/>
<line x1="331.2" y1="533.6" x2="331.2" y2="538" stroke="#000" stroke-width="2"/>
<line x1="67.93" y1="533.6" x2="67.93" y2="536.4" stroke="#000" stroke-width="1.7"/>
<line x1="74.85" y1="533.6" x2="74.85" y2="536.4" stroke="#000" stroke-width="1.7"/>
<line x1="79.76" y1="533.6" x2="79.76" y2="536.4" stroke="#000" stroke-width="1.7"/>
<line x1="83.57" y1="533.6" x2="83.57" y2="536.4" stroke="#000" stroke-width="1.7"/>
<line x1="86.68" y1="533.6" x2="86.68" y2="536.4" stroke="#000" stroke-width="1.7"/>
<line x1="89.31" y1="533.6" x2="89.31" y2="536.4" stroke="#000" stroke-width="1.7"/>
<line x1="91.59" y1="533.6" x2="91.59" y2="536.4" stroke="#000" stroke-width="1.7"/>
<line x1="93.6" y1="533.6" x2="93.6" y2="536.4" stroke="#000" stroke-width="1.7"/>
<line x1="107.23" y1="533.6" x2="107.23" y2="536.4" stroke="#000" stroke-width="1.7"/>
<line x1="114.15" y1="533.6" x2="114.15" y2="536.4" stroke="#000" stroke-width="1.7"/>
<line x1="119.06" y1="533.6" x2="119.06" y2="536.4" stroke="#000" stroke-width="1.7"/>
<line x1="122.87" y1="533.6" x2="122.87" y2="536.4" stroke="#000" stroke-width="1.7"/>
<line x1="125.98" y1="533.6" x2="125.98" y2="536.4" stroke="#000" stroke-width="1.7"/>
<line x1="128.61" y1="533.6" x2="128.61" y2="536.4" stroke="#000" stroke-width="1.7"/>
<line x1="130.89" y1="533.6" x2="130.89" y2="536.4" stroke="#000" stroke-width="1.7"/>
<line x1="132.9" y1="533.6" x2="132.9" y2="536.4" stroke="#000" stroke-width="1.7"/>
<line x1="146.53" y1="533.6" x2="146.53" y2="536.4" stroke="#000" stroke-width="1.7"/>
<line x1="153.45" y1="533.6" x2="153.45" y2="536.4" stroke="#000" stroke-width="1.7"/>
<line x1="158.36" y1="533.6" x2="158.36" y2="536.4" stroke="#000" stroke-width="1.7"/>
<line x1="162.17" y1="533.6" x2="162.17" y2="536.4" stroke="#000" stroke-width="1.7"/>
<line x1="165.28" y1="533.6" x2="165.28" y2="536.4" stroke="#000" stroke-width="1.7"/>
<line x1="167.91" y1="533.6" x2="167.91" y2="536.4" stroke="#000" stroke-width="1.7"/>
<line x1="170.19" y1="533.6" x2="170.19" y2="536.4" stroke="#000" stroke-width="1.7"/>
<line x1="172.2" y1="533.6" x2="172.2" y2="536.4" stroke="#000" stroke-width="1.7"/>
<line x1="185.83" y1="533.6" x2="185.83" y2="536.4" stroke="#000" stroke-width="1.7"/>
<line x1="192.75" y1="533.6" x2="192.75" y2="536.4" stroke="#000" stroke-width="1.7"/>
<line x1="197.66" y1="533.6" x2="197.66" y2="536.4" stroke="#000" stroke-width="1.7"/>
<line x1="201.47" y1="533.6" x2="201.47" y2="536.4" stroke="#000" stroke-width="1.7"/>
<line x1="204.58" y1="533.6" x2="204.58" y2="536.4" stroke="#000" stroke-width="1.7"/>
<line x1="207.21" y1="533.6" x2="207.21" y2="536.4" stroke="#000" stroke-width="1.7"/>
<line x1="209.49" y1="533.6" x2="209.49" y2="536.4" stroke="#000" stroke-width="1.7"/>
<line x1="211.5" y1="533.6" x2="211.5" y2="536.4" stroke="#000" stroke-width="1.7"/>
<line x1="225.13" y1="533.6" x2="225.13" y2="536.4" stroke="#000" stroke-width="1.7"/>
<line x1="232.05" y1="533.6" x2="232.05" y2="536.4" stroke="#000" stroke-width="1.7"/>
<line x1="236.96" y1="533.6" x2="236.96" y2="536.4" stroke="#000" stroke-width="1.7"/>
<line x1="240.77" y1="533.6" x2="240.77" y2="536.4" stroke="#000" stroke-width="1.7"/>
<line x1="243.88" y1="533.6" x2="243.88" y2="536.4" stroke="#000" stroke-width="1.7"/>
<line x1="246.51" y1="533.6" x2="246.51" y2="536.4" stroke="#000" stroke-width="1.7"/>
<line x1="248.79" y1="533.6" x2="248.79" y2="536.4" stroke="#000" stroke-width="1.7"/>
<line x1="250.8" y1="533.6" x2="250.8" y2="536.4" stroke="#000" stroke-width="1.7"/>
<line x1="264.43" y1="533.6" x2="264.43" y2="536.4" stroke="#000" stroke-width="1.7"/>
<line x1="271.35" y1="533.6" x2="271.35" y2="536.4" stroke="#000" stroke-width="1.7"/>
<line x1="276.26" y1="533.6" x2="276.26" y2="536.4" stroke="#000" stroke-width="1.7"/>
<line x1="280.07" y1="533.6" x2="280.07" y2="536.4" stroke="#000" stroke-width="1.7"/>
<line x1="283.18" y1="533.6" x2="283.18" y2="536.4" stroke="#000" stroke-width="1.7"/>
<line x1="285.81" y1="533.6" x2="285.81" y2="536.4" stroke="#000" stroke-width="1.7"/>
<line x1="288.09" y1="533.6" x2="288.09" y2="536.4" stroke="#000" stroke-width="1.7"/>
<line x1="290.1" y1="533.6" x2="290.1" y2="536.4" stroke="#000" stroke-width="1.7"/>
<line x1="303.73" y1="533.6" x2="303.73" y2="536.4" stroke="#000" stroke-width="1.7"/>
<line x1="310.65" y1="533.6" x2="310.65" y2="536.4" stroke="#000" stroke-width="1.7"/>
<line x1="315.56" y1="533.6" x2="315.56" y2="536.4" stroke="#000" stroke-width="1.7"/>
<line x1="319.37" y1="533.6" x2="319.37" y2="536.4" stroke="#000" stroke-width="1.7"/>
<line x1="322.48" y1="533.6" x2="322.48" y2="536.4" stroke="#000" stroke-width="1.7"/>
<line x1="325.11" y1="533.6" x2="325.11" y2="536.4" stroke="#000" stroke-width="1.7"/>
<line x1="327.39" y1="533.6" x2="327.39" y2="536.4" stroke="#000" stroke-width="1.7"/>
<line x1="329.4" y1="533.6" x2="329.4" y2="536.4" stroke="#000" stroke-width="1.7"/>
<text transform="translate(41.68 510.63) scale(1 1.13)" x="0" y="0" font-family="Liberation Sans" font-size="13.7" font-weight="bold" stroke="#000" stroke-width="0.3">4</text>
<text transform="translate(41.68 471.38) scale(1 1.13)" x="0" y="0" font-family="Liberation Sans" font-size="13.7" font-weight="bold" stroke="#000" stroke-width="0.3">5</text>
<text transform="translate(41.68 432.14) scale(1 1.13)" x="0" y="0" font-family="Liberation Sans" font-size="13.7" font-weight="bold" stroke="#000" stroke-width="0.3">6</text>
<text transform="translate(41.68 392.89) scale(1 1.13)" x="0" y="0" font-family="Liberation Sans" font-size="13.7" font-weight="bold" stroke="#000" stroke-width="0.3">7</text>
<text transform="translate(41.68 353.65) scale(1 1.13)" x="0" y="0" font-family="Liberation Sans" font-size="13.7" font-weight="bold" stroke="#000" stroke-width="0.3">8</text>
<text transform="translate(41.68 314.4) scale(1 1.13)" x="0" y="0" font-family="Liberation Sans" font-size="13.7" font-weight="bold" stroke="#000" stroke-width="0.3">9</text>
<path transform="translate(44.97 553.6) scale(0.00669 -0.00756)" d="M806 0H525V1018Q371 879 162 813V1058Q272 1093 401 1190Q530 1287 578 1409H806Z" fill="#000" stroke="#000" stroke-width="44.8"/><text transform="translate(52.59 553.6) scale(1 1.13)" x="0" y="0" font-family="Liberation Sans" font-size="13.7" font-weight="bold" stroke="#000" stroke-width="0.3">0</text><text transform="translate(60.51 546.3) scale(1 1.13)" x="0" y="0" font-family="Liberation Sans" font-size="7.9" font-weight="bold" stroke="#000" stroke-width="0.3">-</text><path transform="translate(63.14 546.3) scale(0.00386 -0.00436)" d="M806 0H525V1018Q371 879 162 813V1058Q272 1093 401 1190Q530 1287 578 1409H806Z" fill="#000" stroke="#000" stroke-width="77.8"/>
<path transform="translate(85.59 553.6) scale(0.00669 -0.00756)" d="M806 0H525V1018Q371 879 162 813V1058Q272 1093 401 1190Q530 1287 578 1409H806Z" fill="#000" stroke="#000" stroke-width="44.8"/><text transform="translate(93.2 553.6) scale(1 1.13)" x="0" y="0" font-family="Liberation Sans" font-size="13.7" font-weight="bold" stroke="#000" stroke-width="0.3">0</text><text transform="translate(101.12 546.3) scale(1 1.13)" x="0" y="0" font-family="Liberation Sans" font-size="7.9" font-weight="bold" stroke="#000" stroke-width="0.3">0</text>
<path transform="translate(124.89 553.6) scale(0.00669 -0.00756)" d="M806 0H525V1018Q371 879 162 813V1058Q272 1093 401 1190Q530 1287 578 1409H806Z" fill="#000" stroke="#000" stroke-width="44.8"/><text transform="translate(132.5 553.6) scale(1 1.13)" x="0" y="0" font-family="Liberation Sans" font-size="13.7" font-weight="bold" stroke="#000" stroke-width="0.3">0</text><path transform="translate(140.42 546.3) scale(0.00386 -0.00436)" d="M806 0H525V1018Q371 879 162 813V1058Q272 1093 401 1190Q530 1287 578 1409H806Z" fill="#000" stroke="#000" stroke-width="77.8"/>
<path transform="translate(164.19 553.6) scale(0.00669 -0.00756)" d="M806 0H525V1018Q371 879 162 813V1058Q272 1093 401 1190Q530 1287 578 1409H806Z" fill="#000" stroke="#000" stroke-width="44.8"/><text transform="translate(171.8 553.6) scale(1 1.13)" x="0" y="0" font-family="Liberation Sans" font-size="13.7" font-weight="bold" stroke="#000" stroke-width="0.3">0</text><text transform="translate(179.72 546.3) scale(1 1.13)" x="0" y="0" font-family="Liberation Sans" font-size="7.9" font-weight="bold" stroke="#000" stroke-width="0.3">2</text>
<path transform="translate(203.49 553.6) scale(0.00669 -0.00756)" d="M806 0H525V1018Q371 879 162 813V1058Q272 1093 401 1190Q530 1287 578 1409H806Z" fill="#000" stroke="#000" stroke-width="44.8"/><text transform="translate(211.1 553.6) scale(1 1.13)" x="0" y="0" font-family="Liberation Sans" font-size="13.7" font-weight="bold" stroke="#000" stroke-width="0.3">0</text><text transform="translate(219.02 546.3) scale(1 1.13)" x="0" y="0" font-family="Liberation Sans" font-size="7.9" font-weight="bold" stroke="#000" stroke-width="0.3">3</text>
<path transform="translate(242.79 553.6) scale(0.00669 -0.00756)" d="M806 0H525V1018Q371 879 162 813V1058Q272 1093 401 1190Q530 1287 578 1409H806Z" fill="#000" stroke="#000" stroke-width="44.8"/><text transform="translate(250.4 553.6) scale(1 1.13)" x="0" y="0" font-family="Liberation Sans" font-size="13.7" font-weight="bold" stroke="#000" stroke-width="0.3">0</text><text transform="translate(258.32 546.3) scale(1 1.13)" x="0" y="0" font-family="Liberation Sans" font-size="7.9" font-weight="bold" stroke="#000" stroke-width="0.3">4</text>
<path transform="translate(282.09 553.6) scale(0.00669 -0.00756)" d="M806 0H525V1018Q371 879 162 813V1058Q272 1093 401 1190Q530 1287 578 1409H806Z" fill="#000" stroke="#000" stroke-width="44.8"/><text transform="translate(289.7 553.6) scale(1 1.13)" x="0" y="0" font-family="Liberation Sans" font-size="13.7" font-weight="bold" stroke="#000" stroke-width="0.3">0</text><text transform="translate(297.62 546.3) scale(1 1.13)" x="0" y="0" font-family="Liberation Sans" font-size="7.9" font-weight="bold" stroke="#000" stroke-width="0.3">5</text>
<path transform="translate(321.39 553.6) scale(0.00669 -0.00756)" d="M806 0H525V1018Q371 879 162 813V1058Q272 1093 401 1190Q530 1287 578 1409H806Z" fill="#000" stroke="#000" stroke-width="44.8"/><text transform="translate(329 553.6) scale(1 1.13)" x="0" y="0" font-family="Liberation Sans" font-size="13.7" font-weight="bold" stroke="#000" stroke-width="0.3">0</text><text transform="translate(336.92 546.3) scale(1 1.13)" x="0" y="0" font-family="Liberation Sans" font-size="7.9" font-weight="bold" stroke="#000" stroke-width="0.3">6</text>
<clipPath id="cd"><rect x="462.2" y="309.8" width="276.8" height="223.7"/></clipPath>
<g clip-path="url(#cd)">
<rect x="463.45" y="520.23" width="6.5" height="6.5" fill="#000000"/>
<rect x="470.88" y="520.26" width="6.5" height="6.5" fill="#000000"/>
<rect x="478.3" y="520.29" width="6.5" height="6.5" fill="#000000"/>
<rect x="485.73" y="520.31" width="6.5" height="6.5" fill="#000000"/>
<rect x="493.15" y="520.33" width="6.5" height="6.5" fill="#000000"/>
<rect x="500.58" y="520.34" width="6.5" height="6.5" fill="#000000"/>
<rect x="508.01" y="520.35" width="6.5" height="6.5" fill="#000000"/>
<rect x="515.43" y="520.36" width="6.5" height="6.5" fill="#000000"/>
<rect x="522.86" y="520.34" width="6.5" height="6.5" fill="#000000"/>
<rect x="530.28" y="520.29" width="6.5" height="6.5" fill="#000000"/>
<rect x="537.71" y="520.21" width="6.5" height="6.5" fill="#000000"/>
<rect x="545.14" y="520.1" width="6.5" height="6.5" fill="#000000"/>
<rect x="552.56" y="519.99" width="6.5" height="6.5" fill="#000000"/>
<rect x="559.99" y="519.86" width="6.5" height="6.5" fill="#000000"/>
<rect x="567.41" y="519.74" width="6.5" height="6.5" fill="#000000"/>
<rect x="574.84" y="519.61" width="6.5" height="6.5" fill="#000000"/>
<rect x="582.27" y="519.44" width="6.5" height="6.5" fill="#000000"/>
<rect x="589.69" y="519.26" width="6.5" height="6.5" fill="#000000"/>
<rect x="597.12" y="519.08" width="6.5" height="6.5" fill="#000000"/>
<rect x="604.54" y="518.9" width="6.5" height="6.5" fill="#000000"/>
<rect x="611.97" y="518.73" width="6.5" height="6.5" fill="#000000"/>
<rect x="619.4" y="518.59" width="6.5" height="6.5" fill="#000000"/>
<rect x="626.82" y="518.46" width="6.5" height="6.5" fill="#000000"/>
<rect x="634.25" y="518.34" width="6.5" height="6.5" fill="#000000"/>
<rect x="641.67" y="518.22" width="6.5" height="6.5" fill="#000000"/>
<rect x="649.1" y="518.11" width="6.5" height="6.5" fill="#000000"/>
<rect x="656.53" y="517.99" width="6.5" height="6.5" fill="#000000"/>
<rect x="663.95" y="517.88" width="6.5" height="6.5" fill="#000000"/>
<rect x="671.38" y="517.77" width="6.5" height="6.5" fill="#000000"/>
<rect x="678.8" y="517.66" width="6.5" height="6.5" fill="#000000"/>
<rect x="686.23" y="517.54" width="6.5" height="6.5" fill="#000000"/>
<rect x="693.66" y="517.4" width="6.5" height="6.5" fill="#000000"/>
<rect x="701.08" y="517.25" width="6.5" height="6.5" fill="#000000"/>
<rect x="708.51" y="517.08" width="6.5" height="6.5" fill="#000000"/>
<rect x="715.93" y="516.89" width="6.5" height="6.5" fill="#000000"/>
<rect x="723.36" y="516.68" width="6.5" height="6.5" fill="#000000"/>
<rect x="730.79" y="516.46" width="6.5" height="6.5" fill="#000000"/>
<rect x="738.21" y="516.22" width="6.5" height="6.5" fill="#000000"/>
<circle cx="466.7" cy="523.35" r="3.5" fill="#ff00ff"/>
<circle cx="474.13" cy="523.4" r="3.5" fill="#ff00ff"/>
<circle cx="481.55" cy="523.45" r="3.5" fill="#ff00ff"/>
<circle cx="488.98" cy="523.5" r="3.5" fill="#ff00ff"/>
<circle cx="496.4" cy="523.54" r="3.5" fill="#ff00ff"/>
<circle cx="503.83" cy="523.57" r="3.5" fill="#ff00ff"/>
<circle cx="511.26" cy="523.6" r="3.5" fill="#ff00ff"/>
<circle cx="518.68" cy="523.61" r="3.5" fill="#ff00ff"/>
<circle cx="526.11" cy="523.6" r="3.5" fill="#ff00ff"/>
<circle cx="533.53" cy="523.56" r="3.5" fill="#ff00ff"/>
<circle cx="540.96" cy="523.5" r="3.5" fill="#ff00ff"/>
<circle cx="548.39" cy="523.43" r="3.5" fill="#ff00ff"/>
<circle cx="555.81" cy="523.34" r="3.5" fill="#ff00ff"/>
<circle cx="563.24" cy="523.25" r="3.5" fill="#ff00ff"/>
<circle cx="570.66" cy="523.17" r="3.5" fill="#ff00ff"/>
<circle cx="578.09" cy="523.07" r="3.5" fill="#ff00ff"/>
<circle cx="585.52" cy="522.95" r="3.5" fill="#ff00ff"/>
<circle cx="592.94" cy="522.82" r="3.5" fill="#ff00ff"/>
<circle cx="600.37" cy="522.68" r="3.5" fill="#ff00ff"/>
<circle cx="607.79" cy="522.53" r="3.5" fill="#ff00ff"/>
<circle cx="615.22" cy="522.4" r="3.5" fill="#ff00ff"/>
<circle cx="622.65" cy="522.27" r="3.5" fill="#ff00ff"/>
<circle cx="630.07" cy="522.15" r="3.5" fill="#ff00ff"/>
<circle cx="637.5" cy="522.03" r="3.5" fill="#ff00ff"/>
<circle cx="644.92" cy="521.91" r="3.5" fill="#ff00ff"/>
<circle cx="652.35" cy="521.79" r="3.5" fill="#ff00ff"/>
<circle cx="659.78" cy="521.67" r="3.5" fill="#ff00ff"/>
<circle cx="667.2" cy="521.56" r="3.5" fill="#ff00ff"/>
<circle cx="674.63" cy="521.44" r="3.5" fill="#ff00ff"/>
<circle cx="682.05" cy="521.33" r="3.5" fill="#ff00ff"/>
<circle cx="689.48" cy="521.21" r="3.5" fill="#ff00ff"/>
<circle cx="696.91" cy="521.08" r="3.5" fill="#ff00ff"/>
<circle cx="704.33" cy="520.94" r="3.5" fill="#ff00ff"/>
<circle cx="711.76" cy="520.8" r="3.5" fill="#ff00ff"/>
<circle cx="719.18" cy="520.64" r="3.5" fill="#ff00ff"/>
<circle cx="726.61" cy="520.48" r="3.5" fill="#ff00ff"/>
<circle cx="734.04" cy="520.31" r="3.5" fill="#ff00ff"/>
<circle cx="741.46" cy="520.13" r="3.5" fill="#ff00ff"/>
<path d="M466.7 517.42L470.6 524.12L462.8 524.12Z" fill="#00ff00"/>
<path d="M474.13 517.64L478.03 524.34L470.23 524.34Z" fill="#00ff00"/>
<path d="M481.55 517.87L485.45 524.57L477.65 524.57Z" fill="#00ff00"/>
<path d="M488.98 518.08L492.88 524.78L485.08 524.78Z" fill="#00ff00"/>
<path d="M496.4 518.26L500.3 524.96L492.5 524.96Z" fill="#00ff00"/>
<path d="M503.83 518.43L507.73 525.13L499.93 525.13Z" fill="#00ff00"/>
<path d="M511.26 518.58L515.16 525.28L507.36 525.28Z" fill="#00ff00"/>
<path d="M518.68 518.69L522.58 525.39L514.78 525.39Z" fill="#00ff00"/>
<path d="M526.11 518.76L530.01 525.46L522.21 525.46Z" fill="#00ff00"/>
<path d="M533.53 518.83L537.43 525.53L529.63 525.53Z" fill="#00ff00"/>
<path d="M540.96 518.89L544.86 525.59L537.06 525.59Z" fill="#00ff00"/>
<path d="M548.39 518.94L552.29 525.64L544.49 525.64Z" fill="#00ff00"/>
<path d="M555.81 518.98L559.71 525.68L551.91 525.68Z" fill="#00ff00"/>
<path d="M563.24 519L567.14 525.7L559.34 525.7Z" fill="#00ff00"/>
<path d="M570.66 519.01L574.56 525.71L566.76 525.71Z" fill="#00ff00"/>
<path d="M578.09 519L581.99 525.7L574.19 525.7Z" fill="#00ff00"/>
<path d="M585.52 518.96L589.42 525.66L581.62 525.66Z" fill="#00ff00"/>
<path d="M592.94 518.92L596.84 525.62L589.04 525.62Z" fill="#00ff00"/>
<path d="M600.37 518.87L604.27 525.57L596.47 525.57Z" fill="#00ff00"/>
<path d="M607.79 518.81L611.69 525.51L603.89 525.51Z" fill="#00ff00"/>
<path d="M615.22 518.75L619.12 525.45L611.32 525.45Z" fill="#00ff00"/>
<path d="M622.65 518.69L626.55 525.39L618.75 525.39Z" fill="#00ff00"/>
<path d="M630.07 518.62L633.97 525.32L626.17 525.32Z" fill="#00ff00"/>
<path d="M637.5 518.54L641.4 525.24L633.6 525.24Z" fill="#00ff00"/>
<path d="M644.92 518.46L648.82 525.16L641.02 525.16Z" fill="#00ff00"/>
<path d="M652.35 518.37L656.25 525.07L648.45 525.07Z" fill="#00ff00"/>
<path d="M659.78 518.28L663.68 524.98L655.88 524.98Z" fill="#00ff00"/>
<path d="M667.2 518.18L671.1 524.88L663.3 524.88Z" fill="#00ff00"/>
<path d="M674.63 518.08L678.53 524.78L670.73 524.78Z" fill="#00ff00"/>
<path d="M682.05 517.97L685.95 524.67L678.15 524.67Z" fill="#00ff00"/>
<path d="M689.48 517.85L693.38 524.55L685.58 524.55Z" fill="#00ff00"/>
<path d="M696.91 517.73L700.81 524.43L693.01 524.43Z" fill="#00ff00"/>
<path d="M704.33 517.6L708.23 524.3L700.43 524.3Z" fill="#00ff00"/>
<path d="M711.76 517.45L715.66 524.15L707.86 524.15Z" fill="#00ff00"/>
<path d="M719.18 517.3L723.08 524L715.28 524Z" fill="#00ff00"/>
<path d="M726.61 517.13L730.51 523.83L722.71 523.83Z" fill="#00ff00"/>
<path d="M734.04 516.96L737.94 523.66L730.14 523.66Z" fill="#00ff00"/>
<path d="M741.46 516.78L745.36 523.48L737.56 523.48Z" fill="#00ff00"/>
<path d="M462.8 514.96L470.6 514.96L466.7 521.66Z" fill="#8000ff"/>
<path d="M470.23 515.75L478.03 515.75L474.13 522.45Z" fill="#8000ff"/>
<path d="M477.65 516.55L485.45 516.55L481.55 523.25Z" fill="#8000ff"/>
<path d="M485.08 517.36L492.88 517.36L488.98 524.06Z" fill="#8000ff"/>
<path d="M492.5 517.95L500.3 517.95L496.4 524.65Z" fill="#8000ff"/>
<path d="M499.93 518.42L507.73 518.42L503.83 525.12Z" fill="#8000ff"/>
<path d="M507.36 518.84L515.16 518.84L511.26 525.54Z" fill="#8000ff"/>
<path d="M514.78 519.21L522.58 519.21L518.68 525.91Z" fill="#8000ff"/>
<path d="M522.21 519.54L530.01 519.54L526.11 526.24Z" fill="#8000ff"/>
<path d="M529.63 519.86L537.43 519.86L533.53 526.56Z" fill="#8000ff"/>
<path d="M537.06 520.13L544.86 520.13L540.96 526.83Z" fill="#8000ff"/>
<path d="M544.49 520.35L552.29 520.35L548.39 527.05Z" fill="#8000ff"/>
<path d="M551.91 520.56L559.71 520.56L555.81 527.26Z" fill="#8000ff"/>
<path d="M559.34 520.73L567.14 520.73L563.24 527.43Z" fill="#8000ff"/>
<path d="M566.76 520.82L574.56 520.82L570.66 527.52Z" fill="#8000ff"/>
<path d="M574.19 520.85L581.99 520.85L578.09 527.55Z" fill="#8000ff"/>
<path d="M581.62 520.88L589.42 520.88L585.52 527.58Z" fill="#8000ff"/>
<path d="M589.04 520.91L596.84 520.91L592.94 527.61Z" fill="#8000ff"/>
<path d="M596.47 520.92L604.27 520.92L600.37 527.62Z" fill="#8000ff"/>
<path d="M603.89 520.94L611.69 520.94L607.79 527.64Z" fill="#8000ff"/>
<path d="M611.32 520.94L619.12 520.94L615.22 527.64Z" fill="#8000ff"/>
<path d="M618.75 520.94L626.55 520.94L622.65 527.64Z" fill="#8000ff"/>
<path d="M626.17 520.85L633.97 520.85L630.07 527.55Z" fill="#8000ff"/>
<path d="M633.6 520.7L641.4 520.7L637.5 527.4Z" fill="#8000ff"/>
<path d="M641.02 520.49L648.82 520.49L644.92 527.19Z" fill="#8000ff"/>
<path d="M648.45 520.27L656.25 520.27L652.35 526.97Z" fill="#8000ff"/>
<path d="M655.88 520.05L663.68 520.05L659.78 526.75Z" fill="#8000ff"/>
<path d="M663.3 519.82L671.1 519.82L667.2 526.52Z" fill="#8000ff"/>
<path d="M670.73 519.55L678.53 519.55L674.63 526.25Z" fill="#8000ff"/>
<path d="M678.15 519.26L685.95 519.26L682.05 525.96Z" fill="#8000ff"/>
<path d="M685.58 518.98L693.38 518.98L689.48 525.68Z" fill="#8000ff"/>
<path d="M693.01 518.72L700.81 518.72L696.91 525.42Z" fill="#8000ff"/>
<path d="M700.43 518.49L708.23 518.49L704.33 525.19Z" fill="#8000ff"/>
<path d="M707.86 518.28L715.66 518.28L711.76 524.98Z" fill="#8000ff"/>
<path d="M715.28 518.08L723.08 518.08L719.18 524.78Z" fill="#8000ff"/>
<path d="M722.71 517.89L730.51 517.89L726.61 524.59Z" fill="#8000ff"/>
<path d="M730.14 517.72L737.94 517.72L734.04 524.42Z" fill="#8000ff"/>
<path d="M737.56 517.56L745.36 517.56L741.46 524.26Z" fill="#8000ff"/>
<path d="M466.7 447.29L470.7 451.59L466.7 455.89L462.7 451.59Z" fill="#ff8000"/>
<path d="M474.13 457.7L478.13 462L474.13 466.3L470.13 462Z" fill="#ff8000"/>
<path d="M481.55 465.58L485.55 469.88L481.55 474.18L477.55 469.88Z" fill="#ff8000"/>
<path d="M488.98 471.68L492.98 475.98L488.98 480.28L484.98 475.98Z" fill="#ff8000"/>
<path d="M496.4 476.34L500.4 480.64L496.4 484.94L492.4 480.64Z" fill="#ff8000"/>
<path d="M503.83 479.74L507.83 484.04L503.83 488.34L499.83 484.04Z" fill="#ff8000"/>
<path d="M511.26 482.68L515.26 486.98L511.26 491.28L507.26 486.98Z" fill="#ff8000"/>
<path d="M518.68 486.22L522.68 490.52L518.68 494.82L514.68 490.52Z" fill="#ff8000"/>
<path d="M526.11 489.15L530.11 493.45L526.11 497.75L522.11 493.45Z" fill="#ff8000"/>
<path d="M533.53 492.26L537.53 496.56L533.53 500.86L529.53 496.56Z" fill="#ff8000"/>
<path d="M540.96 495.14L544.96 499.44L540.96 503.74L536.96 499.44Z" fill="#ff8000"/>
<path d="M548.39 498.03L552.39 502.33L548.39 506.63L544.39 502.33Z" fill="#ff8000"/>
<path d="M555.81 500.53L559.81 504.83L555.81 509.13L551.81 504.83Z" fill="#ff8000"/>
<path d="M563.24 502.89L567.24 507.19L563.24 511.49L559.24 507.19Z" fill="#ff8000"/>
<path d="M570.66 505.22L574.66 509.52L570.66 513.82L566.66 509.52Z" fill="#ff8000"/>
<path d="M578.09 506.99L582.09 511.29L578.09 515.59L574.09 511.29Z" fill="#ff8000"/>
<path d="M585.52 508.87L589.52 513.17L585.52 517.47L581.52 513.17Z" fill="#ff8000"/>
<path d="M592.94 510.48L596.94 514.78L592.94 519.08L588.94 514.78Z" fill="#ff8000"/>
<path d="M600.37 511.82L604.37 516.12L600.37 520.42L596.37 516.12Z" fill="#ff8000"/>
<path d="M607.79 512.94L611.79 517.24L607.79 521.54L603.79 517.24Z" fill="#ff8000"/>
<path d="M615.22 513.84L619.22 518.14L615.22 522.44L611.22 518.14Z" fill="#ff8000"/>
<path d="M622.65 514.55L626.65 518.85L622.65 523.15L618.65 518.85Z" fill="#ff8000"/>
<path d="M630.07 515.06L634.07 519.36L630.07 523.66L626.07 519.36Z" fill="#ff8000"/>
<path d="M637.5 515.46L641.5 519.76L637.5 524.06L633.5 519.76Z" fill="#ff8000"/>
<path d="M644.92 515.89L648.92 520.19L644.92 524.49L640.92 520.19Z" fill="#ff8000"/>
<path d="M652.35 516.16L656.35 520.46L652.35 524.76L648.35 520.46Z" fill="#ff8000"/>
<path d="M659.78 516.25L663.78 520.55L659.78 524.85L655.78 520.55Z" fill="#ff8000"/>
<path d="M667.2 516.23L671.2 520.53L667.2 524.83L663.2 520.53Z" fill="#ff8000"/>
<path d="M674.63 516.18L678.63 520.48L674.63 524.78L670.63 520.48Z" fill="#ff8000"/>
<path d="M682.05 516.12L686.05 520.42L682.05 524.72L678.05 520.42Z" fill="#ff8000"/>
<path d="M689.48 516.06L693.48 520.36L689.48 524.66L685.48 520.36Z" fill="#ff8000"/>
<path d="M696.91 516L700.91 520.3L696.91 524.6L692.91 520.3Z" fill="#ff8000"/>
<path d="M704.33 515.93L708.33 520.23L704.33 524.53L700.33 520.23Z" fill="#ff8000"/>
<path d="M711.76 515.87L715.76 520.17L711.76 524.47L707.76 520.17Z" fill="#ff8000"/>
<path d="M719.18 515.81L723.18 520.11L719.18 524.41L715.18 520.11Z" fill="#ff8000"/>
<path d="M726.61 515.75L730.61 520.05L726.61 524.35L722.61 520.05Z" fill="#ff8000"/>
<path d="M734.04 515.69L738.04 519.99L734.04 524.29L730.04 519.99Z" fill="#ff8000"/>
<path d="M741.46 515.64L745.46 519.94L741.46 524.24L737.46 519.94Z" fill="#ff8000"/>
</g>
<rect x="462.2" y="309.8" width="276.8" height="223.7" fill="none" stroke="#000" stroke-width="2.2"/>
<line x1="462.2" y1="524.9" x2="466.6" y2="524.9" stroke="#000" stroke-width="2"/>
<line x1="462.2" y1="481.88" x2="466.6" y2="481.88" stroke="#000" stroke-width="2"/>
<line x1="462.2" y1="438.86" x2="466.6" y2="438.86" stroke="#000" stroke-width="2"/>
<line x1="462.2" y1="395.84" x2="466.6" y2="395.84" stroke="#000" stroke-width="2"/>
<line x1="462.2" y1="352.82" x2="466.6" y2="352.82" stroke="#000" stroke-width="2"/>
<line x1="462.2" y1="309.8" x2="466.6" y2="309.8" stroke="#000" stroke-width="2"/>
<line x1="462.2" y1="503.39" x2="465" y2="503.39" stroke="#000" stroke-width="1.7"/>
<line x1="462.2" y1="460.37" x2="465" y2="460.37" stroke="#000" stroke-width="1.7"/>
<line x1="462.2" y1="417.35" x2="465" y2="417.35" stroke="#000" stroke-width="1.7"/>
<line x1="462.2" y1="374.33" x2="465" y2="374.33" stroke="#000" stroke-width="1.7"/>
<line x1="462.2" y1="331.31" x2="465" y2="331.31" stroke="#000" stroke-width="1.7"/>
<line x1="462.2" y1="533.5" x2="462.2" y2="529.1" stroke="#000" stroke-width="2"/>
<line x1="501.5" y1="533.5" x2="501.5" y2="529.1" stroke="#000" stroke-width="2"/>
<line x1="540.8" y1="533.5" x2="540.8" y2="529.1" stroke="#000" stroke-width="2"/>
<line x1="580.1" y1="533.5" x2="580.1" y2="529.1" stroke="#000" stroke-width="2"/>
<line x1="619.4" y1="533.5" x2="619.4" y2="529.1" stroke="#000" stroke-width="2"/>
<line x1="658.7" y1="533.5" x2="658.7" y2="529.1" stroke="#000" stroke-width="2"/>
<line x1="698" y1="533.5" x2="698" y2="529.1" stroke="#000" stroke-width="2"/>
<line x1="737.3" y1="533.5" x2="737.3" y2="529.1" stroke="#000" stroke-width="2"/>
<line x1="474.03" y1="533.5" x2="474.03" y2="530.7" stroke="#000" stroke-width="1.7"/>
<line x1="480.95" y1="533.5" x2="480.95" y2="530.7" stroke="#000" stroke-width="1.7"/>
<line x1="485.86" y1="533.5" x2="485.86" y2="530.7" stroke="#000" stroke-width="1.7"/>
<line x1="489.67" y1="533.5" x2="489.67" y2="530.7" stroke="#000" stroke-width="1.7"/>
<line x1="492.78" y1="533.5" x2="492.78" y2="530.7" stroke="#000" stroke-width="1.7"/>
<line x1="495.41" y1="533.5" x2="495.41" y2="530.7" stroke="#000" stroke-width="1.7"/>
<line x1="497.69" y1="533.5" x2="497.69" y2="530.7" stroke="#000" stroke-width="1.7"/>
<line x1="499.7" y1="533.5" x2="499.7" y2="530.7" stroke="#000" stroke-width="1.7"/>
<line x1="513.33" y1="533.5" x2="513.33" y2="530.7" stroke="#000" stroke-width="1.7"/>
<line x1="520.25" y1="533.5" x2="520.25" y2="530.7" stroke="#000" stroke-width="1.7"/>
<line x1="525.16" y1="533.5" x2="525.16" y2="530.7" stroke="#000" stroke-width="1.7"/>
<line x1="528.97" y1="533.5" x2="528.97" y2="530.7" stroke="#000" stroke-width="1.7"/>
<line x1="532.08" y1="533.5" x2="532.08" y2="530.7" stroke="#000" stroke-width="1.7"/>
<line x1="534.71" y1="533.5" x2="534.71" y2="530.7" stroke="#000" stroke-width="1.7"/>
<line x1="536.99" y1="533.5" x2="536.99" y2="530.7" stroke="#000" stroke-width="1.7"/>
<line x1="539" y1="533.5" x2="539" y2="530.7" stroke="#000" stroke-width="1.7"/>
<line x1="552.63" y1="533.5" x2="552.63" y2="530.7" stroke="#000" stroke-width="1.7"/>
<line x1="559.55" y1="533.5" x2="559.55" y2="530.7" stroke="#000" stroke-width="1.7"/>
<line x1="564.46" y1="533.5" x2="564.46" y2="530.7" stroke="#000" stroke-width="1.7"/>
<line x1="568.27" y1="533.5" x2="568.27" y2="530.7" stroke="#000" stroke-width="1.7"/>
<line x1="571.38" y1="533.5" x2="571.38" y2="530.7" stroke="#000" stroke-width="1.7"/>
<line x1="574.01" y1="533.5" x2="574.01" y2="530.7" stroke="#000" stroke-width="1.7"/>
<line x1="576.29" y1="533.5" x2="576.29" y2="530.7" stroke="#000" stroke-width="1.7"/>
<line x1="578.3" y1="533.5" x2="578.3" y2="530.7" stroke="#000" stroke-width="1.7"/>
<line x1="591.93" y1="533.5" x2="591.93" y2="530.7" stroke="#000" stroke-width="1.7"/>
<line x1="598.85" y1="533.5" x2="598.85" y2="530.7" stroke="#000" stroke-width="1.7"/>
<line x1="603.76" y1="533.5" x2="603.76" y2="530.7" stroke="#000" stroke-width="1.7"/>
<line x1="607.57" y1="533.5" x2="607.57" y2="530.7" stroke="#000" stroke-width="1.7"/>
<line x1="610.68" y1="533.5" x2="610.68" y2="530.7" stroke="#000" stroke-width="1.7"/>
<line x1="613.31" y1="533.5" x2="613.31" y2="530.7" stroke="#000" stroke-width="1.7"/>
<line x1="615.59" y1="533.5" x2="615.59" y2="530.7" stroke="#000" stroke-width="1.7"/>
<line x1="617.6" y1="533.5" x2="617.6" y2="530.7" stroke="#000" stroke-width="1.7"/>
<line x1="631.23" y1="533.5" x2="631.23" y2="530.7" stroke="#000" stroke-width="1.7"/>
<line x1="638.15" y1="533.5" x2="638.15" y2="530.7" stroke="#000" stroke-width="1.7"/>
<line x1="643.06" y1="533.5" x2="643.06" y2="530.7" stroke="#000" stroke-width="1.7"/>
<line x1="646.87" y1="533.5" x2="646.87" y2="530.7" stroke="#000" stroke-width="1.7"/>
<line x1="649.98" y1="533.5" x2="649.98" y2="530.7" stroke="#000" stroke-width="1.7"/>
<line x1="652.61" y1="533.5" x2="652.61" y2="530.7" stroke="#000" stroke-width="1.7"/>
<line x1="654.89" y1="533.5" x2="654.89" y2="530.7" stroke="#000" stroke-width="1.7"/>
<line x1="656.9" y1="533.5" x2="656.9" y2="530.7" stroke="#000" stroke-width="1.7"/>
<line x1="670.53" y1="533.5" x2="670.53" y2="530.7" stroke="#000" stroke-width="1.7"/>
<line x1="677.45" y1="533.5" x2="677.45" y2="530.7" stroke="#000" stroke-width="1.7"/>
<line x1="682.36" y1="533.5" x2="682.36" y2="530.7" stroke="#000" stroke-width="1.7"/>
<line x1="686.17" y1="533.5" x2="686.17" y2="530.7" stroke="#000" stroke-width="1.7"/>
<line x1="689.28" y1="533.5" x2="689.28" y2="530.7" stroke="#000" stroke-width="1.7"/>
<line x1="691.91" y1="533.5" x2="691.91" y2="530.7" stroke="#000" stroke-width="1.7"/>
<line x1="694.19" y1="533.5" x2="694.19" y2="530.7" stroke="#000" stroke-width="1.7"/>
<line x1="696.2" y1="533.5" x2="696.2" y2="530.7" stroke="#000" stroke-width="1.7"/>
<line x1="709.83" y1="533.5" x2="709.83" y2="530.7" stroke="#000" stroke-width="1.7"/>
<line x1="716.75" y1="533.5" x2="716.75" y2="530.7" stroke="#000" stroke-width="1.7"/>
<line x1="721.66" y1="533.5" x2="721.66" y2="530.7" stroke="#000" stroke-width="1.7"/>
<line x1="725.47" y1="533.5" x2="725.47" y2="530.7" stroke="#000" stroke-width="1.7"/>
<line x1="728.58" y1="533.5" x2="728.58" y2="530.7" stroke="#000" stroke-width="1.7"/>
<line x1="731.21" y1="533.5" x2="731.21" y2="530.7" stroke="#000" stroke-width="1.7"/>
<line x1="733.49" y1="533.5" x2="733.49" y2="530.7" stroke="#000" stroke-width="1.7"/>
<line x1="735.5" y1="533.5" x2="735.5" y2="530.7" stroke="#000" stroke-width="1.7"/>
<text transform="translate(438.16 529.4) scale(1 1.13)" x="0" y="0" font-family="Liberation Sans" font-size="13.7" font-weight="bold" stroke="#000" stroke-width="0.3">0.0</text>
<text transform="translate(438.16 486.38) scale(1 1.13)" x="0" y="0" font-family="Liberation Sans" font-size="13.7" font-weight="bold" stroke="#000" stroke-width="0.3">0.</text><path transform="translate(449.58 486.38) scale(0.00669 -0.00756)" d="M806 0H525V1018Q371 879 162 813V1058Q272 1093 401 1190Q530 1287 578 1409H806Z" fill="#000" stroke="#000" stroke-width="44.8"/>
<text transform="translate(438.16 443.36) scale(1 1.13)" x="0" y="0" font-family="Liberation Sans" font-size="13.7" font-weight="bold" stroke="#000" stroke-width="0.3">0.2</text>
<text transform="translate(438.16 400.34) scale(1 1.13)" x="0" y="0" font-family="Liberation Sans" font-size="13.7" font-weight="bold" stroke="#000" stroke-width="0.3">0.3</text>
<text transform="translate(438.16 357.32) scale(1 1.13)" x="0" y="0" font-family="Liberation Sans" font-size="13.7" font-weight="bold" stroke="#000" stroke-width="0.3">0.4</text>
<text transform="translate(438.16 314.3) scale(1 1.13)" x="0" y="0" font-family="Liberation Sans" font-size="13.7" font-weight="bold" stroke="#000" stroke-width="0.3">0.5</text>
<path transform="translate(451.07 551.8) scale(0.00669 -0.00756)" d="M806 0H525V1018Q371 879 162 813V1058Q272 1093 401 1190Q530 1287 578 1409H806Z" fill="#000" stroke="#000" stroke-width="44.8"/><text transform="translate(458.69 551.8) scale(1 1.13)" x="0" y="0" font-family="Liberation Sans" font-size="13.7" font-weight="bold" stroke="#000" stroke-width="0.3">0</text><text transform="translate(466.61 544.5) scale(1 1.13)" x="0" y="0" font-family="Liberation Sans" font-size="7.9" font-weight="bold" stroke="#000" stroke-width="0.3">-</text><path transform="translate(469.24 544.5) scale(0.00386 -0.00436)" d="M806 0H525V1018Q371 879 162 813V1058Q272 1093 401 1190Q530 1287 578 1409H806Z" fill="#000" stroke="#000" stroke-width="77.8"/>
<path transform="translate(491.69 551.8) scale(0.00669 -0.00756)" d="M806 0H525V1018Q371 879 162 813V1058Q272 1093 401 1190Q530 1287 578 1409H806Z" fill="#000" stroke="#000" stroke-width="44.8"/><text transform="translate(499.3 551.8) scale(1 1.13)" x="0" y="0" font-family="Liberation Sans" font-size="13.7" font-weight="bold" stroke="#000" stroke-width="0.3">0</text><text transform="translate(507.22 544.5) scale(1 1.13)" x="0" y="0" font-family="Liberation Sans" font-size="7.9" font-weight="bold" stroke="#000" stroke-width="0.3">0</text>
<path transform="translate(530.99 551.8) scale(0.00669 -0.00756)" d="M806 0H525V1018Q371 879 162 813V1058Q272 1093 401 1190Q530 1287 578 1409H806Z" fill="#000" stroke="#000" stroke-width="44.8"/><text transform="translate(538.6 551.8) scale(1 1.13)" x="0" y="0" font-family="Liberation Sans" font-size="13.7" font-weight="bold" stroke="#000" stroke-width="0.3">0</text><path transform="translate(546.52 544.5) scale(0.00386 -0.00436)" d="M806 0H525V1018Q371 879 162 813V1058Q272 1093 401 1190Q530 1287 578 1409H806Z" fill="#000" stroke="#000" stroke-width="77.8"/>
<path transform="translate(570.29 551.8) scale(0.00669 -0.00756)" d="M806 0H525V1018Q371 879 162 813V1058Q272 1093 401 1190Q530 1287 578 1409H806Z" fill="#000" stroke="#000" stroke-width="44.8"/><text transform="translate(577.9 551.8) scale(1 1.13)" x="0" y="0" font-family="Liberation Sans" font-size="13.7" font-weight="bold" stroke="#000" stroke-width="0.3">0</text><text transform="translate(585.82 544.5) scale(1 1.13)" x="0" y="0" font-family="Liberation Sans" font-size="7.9" font-weight="bold" stroke="#000" stroke-width="0.3">2</text>
<path transform="translate(609.59 551.8) scale(0.00669 -0.00756)" d="M806 0H525V1018Q371 879 162 813V1058Q272 1093 401 1190Q530 1287 578 1409H806Z" fill="#000" stroke="#000" stroke-width="44.8"/><text transform="translate(617.2 551.8) scale(1 1.13)" x="0" y="0" font-family="Liberation Sans" font-size="13.7" font-weight="bold" stroke="#000" stroke-width="0.3">0</text><text transform="translate(625.12 544.5) scale(1 1.13)" x="0" y="0" font-family="Liberation Sans" font-size="7.9" font-weight="bold" stroke="#000" stroke-width="0.3">3</text>
<path transform="translate(648.89 551.8) scale(0.00669 -0.00756)" d="M806 0H525V1018Q371 879 162 813V1058Q272 1093 401 1190Q530 1287 578 1409H806Z" fill="#000" stroke="#000" stroke-width="44.8"/><text transform="translate(656.5 551.8) scale(1 1.13)" x="0" y="0" font-family="Liberation Sans" font-size="13.7" font-weight="bold" stroke="#000" stroke-width="0.3">0</text><text transform="translate(664.42 544.5) scale(1 1.13)" x="0" y="0" font-family="Liberation Sans" font-size="7.9" font-weight="bold" stroke="#000" stroke-width="0.3">4</text>
<path transform="translate(688.19 551.8) scale(0.00669 -0.00756)" d="M806 0H525V1018Q371 879 162 813V1058Q272 1093 401 1190Q530 1287 578 1409H806Z" fill="#000" stroke="#000" stroke-width="44.8"/><text transform="translate(695.8 551.8) scale(1 1.13)" x="0" y="0" font-family="Liberation Sans" font-size="13.7" font-weight="bold" stroke="#000" stroke-width="0.3">0</text><text transform="translate(703.72 544.5) scale(1 1.13)" x="0" y="0" font-family="Liberation Sans" font-size="7.9" font-weight="bold" stroke="#000" stroke-width="0.3">5</text>
<path transform="translate(727.49 551.8) scale(0.00669 -0.00756)" d="M806 0H525V1018Q371 879 162 813V1058Q272 1093 401 1190Q530 1287 578 1409H806Z" fill="#000" stroke="#000" stroke-width="44.8"/><text transform="translate(735.1 551.8) scale(1 1.13)" x="0" y="0" font-family="Liberation Sans" font-size="13.7" font-weight="bold" stroke="#000" stroke-width="0.3">0</text><text transform="translate(743.02 544.5) scale(1 1.13)" x="0" y="0" font-family="Liberation Sans" font-size="7.9" font-weight="bold" stroke="#000" stroke-width="0.3">6</text>
<clipPath id="cib"><rect x="525.4" y="28.3" width="125.1" height="101.5"/></clipPath>
<g clip-path="url(#cib)">
<rect x="523.09" y="117.85" width="4.62" height="4.62" fill="#ff00ff"/>
<rect x="529.09" y="118.53" width="4.62" height="4.62" fill="#ff00ff"/>
<rect x="536.74" y="119.03" width="4.62" height="4.62" fill="#ff00ff"/>
<rect x="544.39" y="119.54" width="4.62" height="4.62" fill="#ff00ff"/>
<rect x="552.04" y="119.88" width="4.62" height="4.62" fill="#ff00ff"/>
<rect x="559.69" y="120.22" width="4.62" height="4.62" fill="#ff00ff"/>
<rect x="567.34" y="120.56" width="4.62" height="4.62" fill="#ff00ff"/>
<rect x="574.99" y="121.06" width="4.62" height="4.62" fill="#ff00ff"/>
<rect x="582.64" y="121.4" width="4.62" height="4.62" fill="#ff00ff"/>
<rect x="590.29" y="121.57" width="4.62" height="4.62" fill="#ff00ff"/>
<rect x="597.94" y="121.74" width="4.62" height="4.62" fill="#ff00ff"/>
<rect x="605.59" y="121.91" width="4.62" height="4.62" fill="#ff00ff"/>
<rect x="613.24" y="122.08" width="4.62" height="4.62" fill="#ff00ff"/>
<rect x="620.89" y="122.08" width="4.62" height="4.62" fill="#ff00ff"/>
<rect x="628.54" y="122.25" width="4.62" height="4.62" fill="#ff00ff"/>
<rect x="636.19" y="122.25" width="4.62" height="4.62" fill="#ff00ff"/>
<rect x="643.84" y="122.42" width="4.62" height="4.62" fill="#ff00ff"/>
<circle cx="525.4" cy="102.56" r="2.48" fill="#00ff00"/>
<circle cx="531.4" cy="105.27" r="2.48" fill="#00ff00"/>
<circle cx="539.05" cy="108.49" r="2.48" fill="#00ff00"/>
<circle cx="546.7" cy="111.53" r="2.48" fill="#00ff00"/>
<circle cx="554.35" cy="113.39" r="2.48" fill="#00ff00"/>
<circle cx="562" cy="115.76" r="2.48" fill="#00ff00"/>
<circle cx="569.65" cy="117.28" r="2.48" fill="#00ff00"/>
<circle cx="577.3" cy="118.64" r="2.48" fill="#00ff00"/>
<circle cx="584.95" cy="119.82" r="2.48" fill="#00ff00"/>
<circle cx="592.6" cy="120.83" r="2.48" fill="#00ff00"/>
<circle cx="600.25" cy="121.68" r="2.48" fill="#00ff00"/>
<circle cx="607.9" cy="122.36" r="2.48" fill="#00ff00"/>
<circle cx="615.55" cy="122.86" r="2.48" fill="#00ff00"/>
<circle cx="623.2" cy="123.54" r="2.48" fill="#00ff00"/>
<circle cx="630.85" cy="123.88" r="2.48" fill="#00ff00"/>
<circle cx="638.5" cy="124.05" r="2.48" fill="#00ff00"/>
<circle cx="646.15" cy="124.22" r="2.48" fill="#00ff00"/>
<path d="M525.4 46.73L528.17 51.49L522.63 51.49Z" fill="#8000ff"/>
<path d="M531.4 56.2L534.17 60.96L528.63 60.96Z" fill="#8000ff"/>
<path d="M539.05 67.54L541.82 72.29L536.28 72.29Z" fill="#8000ff"/>
<path d="M546.7 76.84L549.47 81.6L543.93 81.6Z" fill="#8000ff"/>
<path d="M554.35 84.45L557.12 89.21L551.58 89.21Z" fill="#8000ff"/>
<path d="M562 90.71L564.77 95.47L559.23 95.47Z" fill="#8000ff"/>
<path d="M569.65 96.46L572.42 101.22L566.88 101.22Z" fill="#8000ff"/>
<path d="M577.3 100.86L580.07 105.62L574.53 105.62Z" fill="#8000ff"/>
<path d="M584.95 104.08L587.72 108.83L582.18 108.83Z" fill="#8000ff"/>
<path d="M592.6 107.29L595.37 112.05L589.83 112.05Z" fill="#8000ff"/>
<path d="M600.25 109.83L603.02 114.59L597.48 114.59Z" fill="#8000ff"/>
<path d="M607.9 112.2L610.67 116.95L605.13 116.95Z" fill="#8000ff"/>
<path d="M615.55 113.72L618.32 118.48L612.78 118.48Z" fill="#8000ff"/>
<path d="M623.2 115.07L625.97 119.83L620.43 119.83Z" fill="#8000ff"/>
<path d="M630.85 116.09L633.62 120.84L628.08 120.84Z" fill="#8000ff"/>
<path d="M638.5 117.1L641.27 121.86L635.73 121.86Z" fill="#8000ff"/>
<path d="M646.15 117.78L648.92 122.54L643.38 122.54Z" fill="#8000ff"/>
</g>
<line x1="525.4" y1="28.3" x2="525.4" y2="130.55" stroke="#000" stroke-width="1.5"/>
<line x1="524.65" y1="129.8" x2="650.5" y2="129.8" stroke="#000" stroke-width="1.5"/>
<line x1="525.4" y1="129.8" x2="522.2" y2="129.8" stroke="#000" stroke-width="1.4"/>
<line x1="525.4" y1="95.97" x2="522.2" y2="95.97" stroke="#000" stroke-width="1.4"/>
<line x1="525.4" y1="62.13" x2="522.2" y2="62.13" stroke="#000" stroke-width="1.4"/>
<line x1="525.4" y1="28.3" x2="522.2" y2="28.3" stroke="#000" stroke-width="1.4"/>
<line x1="525.4" y1="112.88" x2="523.4" y2="112.88" stroke="#000" stroke-width="1.19"/>
<line x1="525.4" y1="79.05" x2="523.4" y2="79.05" stroke="#000" stroke-width="1.19"/>
<line x1="525.4" y1="45.22" x2="523.4" y2="45.22" stroke="#000" stroke-width="1.19"/>
<line x1="525.4" y1="129.8" x2="525.4" y2="133" stroke="#000" stroke-width="1.4"/>
<line x1="568.9" y1="129.8" x2="568.9" y2="133" stroke="#000" stroke-width="1.4"/>
<line x1="612.4" y1="129.8" x2="612.4" y2="133" stroke="#000" stroke-width="1.4"/>
<line x1="538.49" y1="129.8" x2="538.49" y2="131.8" stroke="#000" stroke-width="1.19"/>
<line x1="546.15" y1="129.8" x2="546.15" y2="131.8" stroke="#000" stroke-width="1.19"/>
<line x1="551.59" y1="129.8" x2="551.59" y2="131.8" stroke="#000" stroke-width="1.19"/>
<line x1="555.81" y1="129.8" x2="555.81" y2="131.8" stroke="#000" stroke-width="1.19"/>
<line x1="559.25" y1="129.8" x2="559.25" y2="131.8" stroke="#000" stroke-width="1.19"/>
<line x1="562.16" y1="129.8" x2="562.16" y2="131.8" stroke="#000" stroke-width="1.19"/>
<line x1="564.68" y1="129.8" x2="564.68" y2="131.8" stroke="#000" stroke-width="1.19"/>
<line x1="566.91" y1="129.8" x2="566.91" y2="131.8" stroke="#000" stroke-width="1.19"/>
<line x1="581.99" y1="129.8" x2="581.99" y2="131.8" stroke="#000" stroke-width="1.19"/>
<line x1="589.65" y1="129.8" x2="589.65" y2="131.8" stroke="#000" stroke-width="1.19"/>
<line x1="595.09" y1="129.8" x2="595.09" y2="131.8" stroke="#000" stroke-width="1.19"/>
<line x1="599.31" y1="129.8" x2="599.31" y2="131.8" stroke="#000" stroke-width="1.19"/>
<line x1="602.75" y1="129.8" x2="602.75" y2="131.8" stroke="#000" stroke-width="1.19"/>
<line x1="605.66" y1="129.8" x2="605.66" y2="131.8" stroke="#000" stroke-width="1.19"/>
<line x1="608.18" y1="129.8" x2="608.18" y2="131.8" stroke="#000" stroke-width="1.19"/>
<line x1="610.41" y1="129.8" x2="610.41" y2="131.8" stroke="#000" stroke-width="1.19"/>
<line x1="625.49" y1="129.8" x2="625.49" y2="131.8" stroke="#000" stroke-width="1.19"/>
<line x1="633.15" y1="129.8" x2="633.15" y2="131.8" stroke="#000" stroke-width="1.19"/>
<line x1="638.59" y1="129.8" x2="638.59" y2="131.8" stroke="#000" stroke-width="1.19"/>
<line x1="642.81" y1="129.8" x2="642.81" y2="131.8" stroke="#000" stroke-width="1.19"/>
<line x1="646.25" y1="129.8" x2="646.25" y2="131.8" stroke="#000" stroke-width="1.19"/>
<line x1="649.16" y1="129.8" x2="649.16" y2="131.8" stroke="#000" stroke-width="1.19"/>
<text transform="translate(498.65 133.8) scale(1 1.13)" x="0" y="0" font-family="Liberation Sans" font-size="12" font-weight="bold" stroke="#000" stroke-width="0.3">0.00</text>
<text transform="translate(498.65 99.97) scale(1 1.13)" x="0" y="0" font-family="Liberation Sans" font-size="12" font-weight="bold" stroke="#000" stroke-width="0.3">0.02</text>
<text transform="translate(498.65 66.13) scale(1 1.13)" x="0" y="0" font-family="Liberation Sans" font-size="12" font-weight="bold" stroke="#000" stroke-width="0.3">0.04</text>
<text transform="translate(498.65 32.3) scale(1 1.13)" x="0" y="0" font-family="Liberation Sans" font-size="12" font-weight="bold" stroke="#000" stroke-width="0.3">0.06</text>
<path transform="translate(515.62 144) scale(0.00586 -0.00662)" d="M806 0H525V1018Q371 879 162 813V1058Q272 1093 401 1190Q530 1287 578 1409H806Z" fill="#000" stroke="#000" stroke-width="51.2"/><text transform="translate(522.29 144) scale(1 1.13)" x="0" y="0" font-family="Liberation Sans" font-size="12" font-weight="bold" stroke="#000" stroke-width="0.3">0</text><text transform="translate(529.26 138.4) scale(1 1.13)" x="0" y="0" font-family="Liberation Sans" font-size="7" font-weight="bold" stroke="#000" stroke-width="0.3">-</text><path transform="translate(531.59 138.4) scale(0.00342 -0.00386)" d="M806 0H525V1018Q371 879 162 813V1058Q272 1093 401 1190Q530 1287 578 1409H806Z" fill="#000" stroke="#000" stroke-width="87.8"/>
<path transform="translate(560.28 144) scale(0.00586 -0.00662)" d="M806 0H525V1018Q371 879 162 813V1058Q272 1093 401 1190Q530 1287 578 1409H806Z" fill="#000" stroke="#000" stroke-width="51.2"/><text transform="translate(566.95 144) scale(1 1.13)" x="0" y="0" font-family="Liberation Sans" font-size="12" font-weight="bold" stroke="#000" stroke-width="0.3">0</text><text transform="translate(573.93 138.4) scale(1 1.13)" x="0" y="0" font-family="Liberation Sans" font-size="7" font-weight="bold" stroke="#000" stroke-width="0.3">0</text>
<path transform="translate(603.78 144) scale(0.00586 -0.00662)" d="M806 0H525V1018Q371 879 162 813V1058Q272 1093 401 1190Q530 1287 578 1409H806Z" fill="#000" stroke="#000" stroke-width="51.2"/><text transform="translate(610.45 144) scale(1 1.13)" x="0" y="0" font-family="Liberation Sans" font-size="12" font-weight="bold" stroke="#000" stroke-width="0.3">0</text><path transform="translate(617.43 138.4) scale(0.00342 -0.00386)" d="M806 0H525V1018Q371 879 162 813V1058Q272 1093 401 1190Q530 1287 578 1409H806Z" fill="#000" stroke="#000" stroke-width="87.8"/>
<clipPath id="cid"><rect x="518.7" y="332.7" width="124.9" height="100.8"/></clipPath>
<g clip-path="url(#cid)">
<rect x="520.19" y="414.86" width="4.42" height="4.42" fill="#000000"/>
<rect x="526.75" y="415.16" width="4.42" height="4.42" fill="#000000"/>
<rect x="533.3" y="415.67" width="4.42" height="4.42" fill="#000000"/>
<rect x="539.86" y="416.17" width="4.42" height="4.42" fill="#000000"/>
<rect x="546.41" y="416.17" width="4.42" height="4.42" fill="#000000"/>
<rect x="552.97" y="416.17" width="4.42" height="4.42" fill="#000000"/>
<rect x="559.53" y="416.17" width="4.42" height="4.42" fill="#000000"/>
<rect x="566.08" y="415.67" width="4.42" height="4.42" fill="#000000"/>
<rect x="572.64" y="414.15" width="4.42" height="4.42" fill="#000000"/>
<rect x="579.19" y="412.64" width="4.42" height="4.42" fill="#000000"/>
<rect x="585.75" y="411.63" width="4.42" height="4.42" fill="#000000"/>
<rect x="592.31" y="410.12" width="4.42" height="4.42" fill="#000000"/>
<rect x="598.86" y="409.57" width="4.42" height="4.42" fill="#000000"/>
<rect x="605.42" y="407.95" width="4.42" height="4.42" fill="#000000"/>
<rect x="611.97" y="406.39" width="4.42" height="4.42" fill="#000000"/>
<rect x="618.53" y="405.08" width="4.42" height="4.42" fill="#000000"/>
<rect x="625.09" y="403.77" width="4.42" height="4.42" fill="#000000"/>
<rect x="631.64" y="401.81" width="4.42" height="4.42" fill="#000000"/>
<rect x="638.2" y="400.5" width="4.42" height="4.42" fill="#000000"/>
<circle cx="522.4" cy="412.53" r="2.38" fill="#ff00ff"/>
<circle cx="528.96" cy="413.34" r="2.38" fill="#ff00ff"/>
<circle cx="535.51" cy="414.85" r="2.38" fill="#ff00ff"/>
<circle cx="542.07" cy="416.01" r="2.38" fill="#ff00ff"/>
<circle cx="548.62" cy="417.02" r="2.38" fill="#ff00ff"/>
<circle cx="555.18" cy="417.72" r="2.38" fill="#ff00ff"/>
<circle cx="561.74" cy="417.98" r="2.38" fill="#ff00ff"/>
<circle cx="568.29" cy="418.58" r="2.38" fill="#ff00ff"/>
<circle cx="574.85" cy="418.78" r="2.38" fill="#ff00ff"/>
<circle cx="581.4" cy="418.78" r="2.38" fill="#ff00ff"/>
<circle cx="587.96" cy="418.58" r="2.38" fill="#ff00ff"/>
<circle cx="594.52" cy="417.07" r="2.38" fill="#ff00ff"/>
<circle cx="601.07" cy="416.26" r="2.38" fill="#ff00ff"/>
<circle cx="607.63" cy="415.36" r="2.38" fill="#ff00ff"/>
<circle cx="614.18" cy="414.55" r="2.38" fill="#ff00ff"/>
<circle cx="620.74" cy="413.44" r="2.38" fill="#ff00ff"/>
<circle cx="627.3" cy="412.18" r="2.38" fill="#ff00ff"/>
<circle cx="633.85" cy="410.77" r="2.38" fill="#ff00ff"/>
<circle cx="640.41" cy="408.85" r="2.38" fill="#ff00ff"/>
<path d="M522.4 391.41L525.05 395.96L519.75 395.96Z" fill="#00ff00"/>
<path d="M528.96 395.94L531.61 400.5L526.3 400.5Z" fill="#00ff00"/>
<path d="M535.51 399.47L538.16 404.03L532.86 404.03Z" fill="#00ff00"/>
<path d="M542.07 403L544.72 407.55L539.42 407.55Z" fill="#00ff00"/>
<path d="M548.62 405.52L551.28 410.07L545.97 410.07Z" fill="#00ff00"/>
<path d="M555.18 407.84L557.83 412.39L552.53 412.39Z" fill="#00ff00"/>
<path d="M561.74 409.55L564.39 414.11L559.08 414.11Z" fill="#00ff00"/>
<path d="M568.29 411.11L570.94 415.67L565.64 415.67Z" fill="#00ff00"/>
<path d="M574.85 412.32L577.5 416.88L572.2 416.88Z" fill="#00ff00"/>
<path d="M581.4 413.23L584.06 417.79L578.75 417.79Z" fill="#00ff00"/>
<path d="M587.96 414.04L590.61 418.59L585.31 418.59Z" fill="#00ff00"/>
<path d="M594.52 414.74L597.17 419.3L591.86 419.3Z" fill="#00ff00"/>
<path d="M601.07 414.59L603.72 419.15L598.42 419.15Z" fill="#00ff00"/>
<path d="M607.63 414.09L610.28 418.64L604.98 418.64Z" fill="#00ff00"/>
<path d="M614.18 414.09L616.84 418.64L611.53 418.64Z" fill="#00ff00"/>
<path d="M620.74 413.58L623.39 418.14L618.09 418.14Z" fill="#00ff00"/>
<path d="M627.3 413.08L629.95 417.63L624.64 417.63Z" fill="#00ff00"/>
<path d="M633.85 413.08L636.5 417.63L631.2 417.63Z" fill="#00ff00"/>
<path d="M640.41 412.27L643.06 416.83L637.76 416.83Z" fill="#00ff00"/>
<path d="M519.75 343.37L525.05 343.37L522.4 347.93Z" fill="#8000ff"/>
<path d="M526.3 350.78L531.61 350.78L528.96 355.34Z" fill="#8000ff"/>
<path d="M532.86 363.03L538.16 363.03L535.51 367.59Z" fill="#8000ff"/>
<path d="M539.42 373.36L544.72 373.36L542.07 377.92Z" fill="#8000ff"/>
<path d="M545.97 382.33L551.28 382.33L548.62 386.89Z" fill="#8000ff"/>
<path d="M552.53 388.89L557.83 388.89L555.18 393.44Z" fill="#8000ff"/>
<path d="M559.08 394.13L564.39 394.13L561.74 398.68Z" fill="#8000ff"/>
<path d="M565.64 398.81L570.94 398.81L568.29 403.37Z" fill="#8000ff"/>
<path d="M572.2 402.39L577.5 402.39L574.85 406.95Z" fill="#8000ff"/>
<path d="M578.75 405.82L584.06 405.82L581.4 410.38Z" fill="#8000ff"/>
<path d="M585.31 408.09L590.61 408.09L587.96 412.64Z" fill="#8000ff"/>
<path d="M591.86 410.66L597.17 410.66L594.52 415.21Z" fill="#8000ff"/>
<path d="M598.42 412.78L603.72 412.78L601.07 417.33Z" fill="#8000ff"/>
<path d="M604.98 413.99L610.28 413.99L607.63 418.54Z" fill="#8000ff"/>
<path d="M611.53 415.09L616.84 415.09L614.18 419.65Z" fill="#8000ff"/>
<path d="M618.09 415.6L623.39 415.6L620.74 420.15Z" fill="#8000ff"/>
<path d="M624.64 416.86L629.95 416.86L627.3 421.41Z" fill="#8000ff"/>
<path d="M631.2 417.16L636.5 417.16L633.85 421.72Z" fill="#8000ff"/>
<path d="M637.76 418.07L643.06 418.07L640.41 422.62Z" fill="#8000ff"/>
</g>
<line x1="518.7" y1="332.7" x2="518.7" y2="434.2" stroke="#000" stroke-width="1.4"/>
<line x1="518" y1="433.5" x2="643.6" y2="433.5" stroke="#000" stroke-width="1.4"/>
<line x1="518.7" y1="433.5" x2="521.7" y2="433.5" stroke="#000" stroke-width="1.3"/>
<line x1="518.7" y1="383.1" x2="521.7" y2="383.1" stroke="#000" stroke-width="1.3"/>
<line x1="518.7" y1="332.7" x2="521.7" y2="332.7" stroke="#000" stroke-width="1.3"/>
<line x1="518.7" y1="408.3" x2="520.5" y2="408.3" stroke="#000" stroke-width="1.1"/>
<line x1="518.7" y1="357.9" x2="520.5" y2="357.9" stroke="#000" stroke-width="1.1"/>
<line x1="518.7" y1="433.5" x2="518.7" y2="430.5" stroke="#000" stroke-width="1.3"/>
<line x1="553" y1="433.5" x2="553" y2="430.5" stroke="#000" stroke-width="1.3"/>
<line x1="587.3" y1="433.5" x2="587.3" y2="430.5" stroke="#000" stroke-width="1.3"/>
<line x1="621.6" y1="433.5" x2="621.6" y2="430.5" stroke="#000" stroke-width="1.3"/>
<line x1="529.03" y1="433.5" x2="529.03" y2="431.7" stroke="#000" stroke-width="1.1"/>
<line x1="535.07" y1="433.5" x2="535.07" y2="431.7" stroke="#000" stroke-width="1.1"/>
<line x1="539.35" y1="433.5" x2="539.35" y2="431.7" stroke="#000" stroke-width="1.1"/>
<line x1="542.67" y1="433.5" x2="542.67" y2="431.7" stroke="#000" stroke-width="1.1"/>
<line x1="545.39" y1="433.5" x2="545.39" y2="431.7" stroke="#000" stroke-width="1.1"/>
<line x1="547.69" y1="433.5" x2="547.69" y2="431.7" stroke="#000" stroke-width="1.1"/>
<line x1="549.68" y1="433.5" x2="549.68" y2="431.7" stroke="#000" stroke-width="1.1"/>
<line x1="551.43" y1="433.5" x2="551.43" y2="431.7" stroke="#000" stroke-width="1.1"/>
<line x1="563.33" y1="433.5" x2="563.33" y2="431.7" stroke="#000" stroke-width="1.1"/>
<line x1="569.37" y1="433.5" x2="569.37" y2="431.7" stroke="#000" stroke-width="1.1"/>
<line x1="573.65" y1="433.5" x2="573.65" y2="431.7" stroke="#000" stroke-width="1.1"/>
<line x1="576.97" y1="433.5" x2="576.97" y2="431.7" stroke="#000" stroke-width="1.1"/>
<line x1="579.69" y1="433.5" x2="579.69" y2="431.7" stroke="#000" stroke-width="1.1"/>
<line x1="581.99" y1="433.5" x2="581.99" y2="431.7" stroke="#000" stroke-width="1.1"/>
<line x1="583.98" y1="433.5" x2="583.98" y2="431.7" stroke="#000" stroke-width="1.1"/>
<line x1="585.73" y1="433.5" x2="585.73" y2="431.7" stroke="#000" stroke-width="1.1"/>
<line x1="597.63" y1="433.5" x2="597.63" y2="431.7" stroke="#000" stroke-width="1.1"/>
<line x1="603.67" y1="433.5" x2="603.67" y2="431.7" stroke="#000" stroke-width="1.1"/>
<line x1="607.95" y1="433.5" x2="607.95" y2="431.7" stroke="#000" stroke-width="1.1"/>
<line x1="611.27" y1="433.5" x2="611.27" y2="431.7" stroke="#000" stroke-width="1.1"/>
<line x1="613.99" y1="433.5" x2="613.99" y2="431.7" stroke="#000" stroke-width="1.1"/>
<line x1="616.29" y1="433.5" x2="616.29" y2="431.7" stroke="#000" stroke-width="1.1"/>
<line x1="618.28" y1="433.5" x2="618.28" y2="431.7" stroke="#000" stroke-width="1.1"/>
<line x1="620.03" y1="433.5" x2="620.03" y2="431.7" stroke="#000" stroke-width="1.1"/>
<line x1="631.93" y1="433.5" x2="631.93" y2="431.7" stroke="#000" stroke-width="1.1"/>
<line x1="637.97" y1="433.5" x2="637.97" y2="431.7" stroke="#000" stroke-width="1.1"/>
<line x1="642.25" y1="433.5" x2="642.25" y2="431.7" stroke="#000" stroke-width="1.1"/>
<text transform="translate(494.29 437.7) scale(1 1.13)" x="0" y="0" font-family="Liberation Sans" font-size="10.9" font-weight="bold" stroke="#000" stroke-width="0.3">0.00</text>
<text transform="translate(494.29 387.3) scale(1 1.13)" x="0" y="0" font-family="Liberation Sans" font-size="10.9" font-weight="bold" stroke="#000" stroke-width="0.3">0.0</text><path transform="translate(509.44 387.3) scale(0.00532 -0.00601)" d="M806 0H525V1018Q371 879 162 813V1058Q272 1093 401 1190Q530 1287 578 1409H806Z" fill="#000" stroke="#000" stroke-width="56.4"/>
<text transform="translate(494.29 336.9) scale(1 1.13)" x="0" y="0" font-family="Liberation Sans" font-size="10.9" font-weight="bold" stroke="#000" stroke-width="0.3">0.02</text>
<path transform="translate(509.75 447.6) scale(0.00532 -0.00601)" d="M806 0H525V1018Q371 879 162 813V1058Q272 1093 401 1190Q530 1287 578 1409H806Z" fill="#000" stroke="#000" stroke-width="56.4"/><text transform="translate(515.81 447.6) scale(1 1.13)" x="0" y="0" font-family="Liberation Sans" font-size="10.9" font-weight="bold" stroke="#000" stroke-width="0.3">0</text><text transform="translate(522.17 442.3) scale(1 1.13)" x="0" y="0" font-family="Liberation Sans" font-size="6.5" font-weight="bold" stroke="#000" stroke-width="0.3">-</text><path transform="translate(524.34 442.3) scale(0.00317 -0.00359)" d="M806 0H525V1018Q371 879 162 813V1058Q272 1093 401 1190Q530 1287 578 1409H806Z" fill="#000" stroke="#000" stroke-width="94.5"/>
<path transform="translate(545.13 447.6) scale(0.00532 -0.00601)" d="M806 0H525V1018Q371 879 162 813V1058Q272 1093 401 1190Q530 1287 578 1409H806Z" fill="#000" stroke="#000" stroke-width="56.4"/><text transform="translate(551.19 447.6) scale(1 1.13)" x="0" y="0" font-family="Liberation Sans" font-size="10.9" font-weight="bold" stroke="#000" stroke-width="0.3">0</text><text transform="translate(557.55 442.3) scale(1 1.13)" x="0" y="0" font-family="Liberation Sans" font-size="6.5" font-weight="bold" stroke="#000" stroke-width="0.3">0</text>
<path transform="translate(579.43 447.6) scale(0.00532 -0.00601)" d="M806 0H525V1018Q371 879 162 813V1058Q272 1093 401 1190Q530 1287 578 1409H806Z" fill="#000" stroke="#000" stroke-width="56.4"/><text transform="translate(585.49 447.6) scale(1 1.13)" x="0" y="0" font-family="Liberation Sans" font-size="10.9" font-weight="bold" stroke="#000" stroke-width="0.3">0</text><path transform="translate(591.85 442.3) scale(0.00317 -0.00359)" d="M806 0H525V1018Q371 879 162 813V1058Q272 1093 401 1190Q530 1287 578 1409H806Z" fill="#000" stroke="#000" stroke-width="94.5"/>
<path transform="translate(613.73 447.6) scale(0.00532 -0.00601)" d="M806 0H525V1018Q371 879 162 813V1058Q272 1093 401 1190Q530 1287 578 1409H806Z" fill="#000" stroke="#000" stroke-width="56.4"/><text transform="translate(619.79 447.6) scale(1 1.13)" x="0" y="0" font-family="Liberation Sans" font-size="10.9" font-weight="bold" stroke="#000" stroke-width="0.3">0</text><text transform="translate(626.15 442.3) scale(1 1.13)" x="0" y="0" font-family="Liberation Sans" font-size="6.5" font-weight="bold" stroke="#000" stroke-width="0.3">2</text>
<text x="16" y="18.4" font-family="Liberation Serif" font-size="20" font-weight="bold" text-anchor="start" >a</text>
<text x="407.6" y="18.7" font-family="Liberation Serif" font-size="20" font-weight="bold" text-anchor="start" >b</text>
<text x="9" y="315.9" font-family="Liberation Serif" font-size="20" font-weight="bold" text-anchor="start" >c</text>
<text x="404.5" y="315.8" font-family="Liberation Serif" font-size="20" font-weight="bold" text-anchor="start" >d</text>
<text x="194.8" y="277.8" font-family="Liberation Serif" font-size="16.9" font-weight="bold" text-anchor="middle" >Frequency (Hz)</text>
<text x="600.8" y="277.9" font-family="Liberation Serif" font-size="16.9" font-weight="bold" text-anchor="middle" >Frequency (Hz)</text>
<text x="194.8" y="575.8" font-family="Liberation Serif" font-size="16.9" font-weight="bold" text-anchor="middle" >Frequency (Hz)</text>
<text x="600.6" y="571.7" font-family="Liberation Serif" font-size="16.9" font-weight="bold" text-anchor="middle" >Frequency (Hz)</text>
<text x="0" y="0" transform="translate(14.7 120) rotate(-90)" font-family="Liberation Serif" font-size="29.5" font-weight="normal" text-anchor="middle" dominant-baseline="central" stroke="#000" stroke-width="0.5">&#949;</text>
<path d="M9.4 110.5L12.9 113.0" stroke="#000" stroke-width="1.7" stroke-linecap="round"/>
<text x="0" y="0" transform="translate(13.8 423) rotate(-90)" font-family="Liberation Serif" font-size="29.5" font-weight="normal" text-anchor="middle" dominant-baseline="central" stroke="#000" stroke-width="0.5">&#949;</text>
<path d="M9.2 414.3L13.0 416.6" stroke="#000" stroke-width="1.7" stroke-linecap="round"/>
<text x="0" y="0" transform="translate(416.8 122) rotate(-90)" font-family="Liberation Serif" font-size="16.6" font-weight="bold" text-anchor="middle" dominant-baseline="central" >Tan&#948;</text>
<text x="0" y="0" transform="translate(421.3 421.4) rotate(-90)" font-family="Liberation Serif" font-size="17.3" font-weight="bold" text-anchor="middle" dominant-baseline="central" >Tan &#948;</text>
<rect x="256.11" y="27.21" width="5.98" height="5.98" fill="#ff00ff"/>
<text x="276" y="35.6" font-family="Liberation Serif" font-size="15.1" font-weight="bold">50 <tspan font-size="9.2" dy="-7.2" dx="0.1">o</tspan><tspan dy="7.2" dx="-0.2">C</tspan></text>
<circle cx="259.1" cy="50.97" r="3.29" fill="#00ff00"/>
<text x="276" y="56.37" font-family="Liberation Serif" font-size="15.1" font-weight="bold">75 <tspan font-size="9.2" dy="-7.2" dx="0.1">o</tspan><tspan dy="7.2" dx="-0.2">C</tspan></text>
<path d="M259.1 68.22L263.2 75.26L255.01 75.26Z" fill="#8000ff"/>
<text x="276" y="77.14" font-family="Liberation Serif" font-size="15.1" font-weight="bold">100 <tspan font-size="9.2" dy="-7.2" dx="0.1">o</tspan><tspan dy="7.2" dx="-0.2">C</tspan></text>
<path d="M255.01 88.99L263.2 88.99L259.1 96.03Z" fill="#ff8000"/>
<text x="276" y="97.91" font-family="Liberation Serif" font-size="15.1" font-weight="bold">125 <tspan font-size="9.2" dy="-7.2" dx="0.1">o</tspan><tspan dy="7.2" dx="-0.2">C</tspan></text>
<rect x="663.31" y="27.51" width="5.98" height="5.98" fill="#ff00ff"/>
<text x="687.2" y="35.9" font-family="Liberation Serif" font-size="15.1" font-weight="bold">50 <tspan font-size="9.2" dy="-7.2" dx="0.1">o</tspan><tspan dy="7.2" dx="-0.2">C</tspan></text>
<circle cx="666.3" cy="51.43" r="3.29" fill="#00ff00"/>
<text x="687.2" y="56.83" font-family="Liberation Serif" font-size="15.1" font-weight="bold">75 <tspan font-size="9.2" dy="-7.2" dx="0.1">o</tspan><tspan dy="7.2" dx="-0.2">C</tspan></text>
<path d="M666.3 68.84L670.39 75.88L662.2 75.88Z" fill="#8000ff"/>
<text x="687.2" y="77.76" font-family="Liberation Serif" font-size="15.1" font-weight="bold">100 <tspan font-size="9.2" dy="-7.2" dx="0.1">o</tspan><tspan dy="7.2" dx="-0.2">C</tspan></text>
<path d="M662.2 89.77L670.39 89.77L666.3 96.81Z" fill="#ff8000"/>
<text x="687.2" y="98.69" font-family="Liberation Serif" font-size="15.1" font-weight="bold">125 <tspan font-size="9.2" dy="-7.2" dx="0.1">o</tspan><tspan dy="7.2" dx="-0.2">C</tspan></text>
<rect x="255.51" y="323.41" width="5.98" height="5.98" fill="#000000"/>
<text x="279.1" y="331.8" font-family="Liberation Serif" font-size="15.1" font-weight="bold">30 <tspan font-size="9.2" dy="-7.2" dx="0.1">o</tspan><tspan dy="7.2" dx="-0.2">C</tspan></text>
<circle cx="258.5" cy="347" r="3.29" fill="#ff00ff"/>
<text x="279.1" y="352.4" font-family="Liberation Serif" font-size="15.1" font-weight="bold">50 <tspan font-size="9.2" dy="-7.2" dx="0.1">o</tspan><tspan dy="7.2" dx="-0.2">C</tspan></text>
<path d="M258.5 364.08L262.6 371.12L254.41 371.12Z" fill="#00ff00"/>
<text x="279.1" y="373" font-family="Liberation Serif" font-size="15.1" font-weight="bold">75 <tspan font-size="9.2" dy="-7.2" dx="0.1">o</tspan><tspan dy="7.2" dx="-0.2">C</tspan></text>
<path d="M254.41 384.68L262.6 384.68L258.5 391.72Z" fill="#8000ff"/>
<text x="279.1" y="393.6" font-family="Liberation Serif" font-size="15.1" font-weight="bold">100 <tspan font-size="9.2" dy="-7.2" dx="0.1">o</tspan><tspan dy="7.2" dx="-0.2">C</tspan></text>
<path d="M258.5 404.5L262.5 408.8L258.5 413.1L254.5 408.8Z" fill="#ff8000"/>
<text x="279.1" y="414.2" font-family="Liberation Serif" font-size="15.1" font-weight="bold">125 <tspan font-size="9.2" dy="-7.2" dx="0.1">o</tspan><tspan dy="7.2" dx="-0.2">C</tspan></text>
<rect x="660.01" y="323.11" width="5.98" height="5.98" fill="#000000"/>
<text x="683.7" y="331.5" font-family="Liberation Serif" font-size="15.1" font-weight="bold">30 <tspan font-size="9.2" dy="-7.2" dx="0.1">o</tspan><tspan dy="7.2" dx="-0.2">C</tspan></text>
<circle cx="663" cy="346.7" r="3.29" fill="#ff00ff"/>
<text x="683.7" y="352.1" font-family="Liberation Serif" font-size="15.1" font-weight="bold">50 <tspan font-size="9.2" dy="-7.2" dx="0.1">o</tspan><tspan dy="7.2" dx="-0.2">C</tspan></text>
<path d="M663 363.78L667.1 370.82L658.9 370.82Z" fill="#00ff00"/>
<text x="683.7" y="372.7" font-family="Liberation Serif" font-size="15.1" font-weight="bold">75 <tspan font-size="9.2" dy="-7.2" dx="0.1">o</tspan><tspan dy="7.2" dx="-0.2">C</tspan></text>
<path d="M658.9 384.38L667.1 384.38L663 391.42Z" fill="#8000ff"/>
<text x="683.7" y="393.3" font-family="Liberation Serif" font-size="15.1" font-weight="bold">100 <tspan font-size="9.2" dy="-7.2" dx="0.1">o</tspan><tspan dy="7.2" dx="-0.2">C</tspan></text>
<path d="M663 404.2L667 408.5L663 412.8L659 408.5Z" fill="#ff8000"/>
<text x="683.7" y="413.9" font-family="Liberation Serif" font-size="15.1" font-weight="bold">125 <tspan font-size="9.2" dy="-7.2" dx="0.1">o</tspan><tspan dy="7.2" dx="-0.2">C</tspan></text>
</svg></body></html>
